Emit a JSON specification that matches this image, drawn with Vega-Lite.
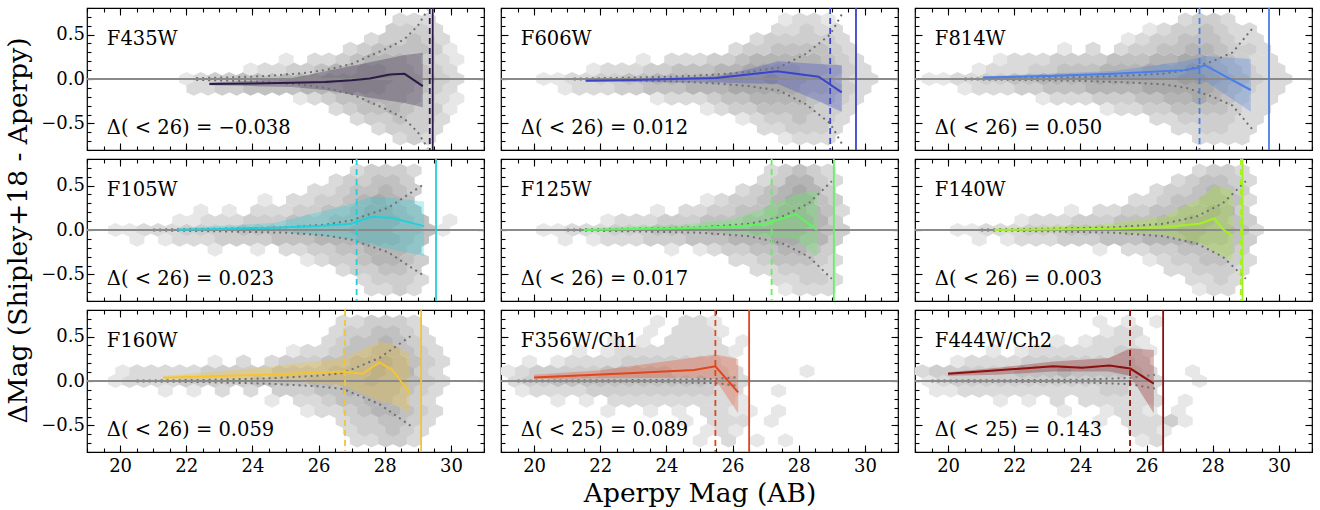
{
"$schema":"https://vega.github.io/schema/vega-lite/v6.json",
"background":"white",
"padding":{"left":5,"top":6,"right":5,"bottom":5},
"config":{"view":{"stroke":"#000","strokeWidth":1.2},
"axis":{"domain":false,"grid":false,"labels":false,"tickColor":"#000","tickWidth":1.1,"labelFont":"DejaVu Serif","labelFontSize":18,"labelColor":"#000","titleFont":"DejaVu Serif","titleFontSize":26.5,"titleFontWeight":"normal","titleColor":"#000"},
"axisX":{"labelPadding":12,"titlePadding":5},"axisY":{"labelPadding":9.5,"titlePadding":8},
"text":{"color":"#000","font":"DejaVu Serif","fontSize":19.5,"align":"left","baseline":"middle"}},
"datasets":{
"lab":[
{"p":"435","name":"F435W","stat":"Δ( < 26) = −0.038"},
{"p":"606","name":"F606W","stat":"Δ( < 26) = 0.012"},
{"p":"814","name":"F814W","stat":"Δ( < 26) = 0.050"},
{"p":"105","name":"F105W","stat":"Δ( < 26) = 0.023"},
{"p":"125","name":"F125W","stat":"Δ( < 26) = 0.017"},
{"p":"140","name":"F140W","stat":"Δ( < 26) = 0.003"},
{"p":"160","name":"F160W","stat":"Δ( < 26) = 0.059"},
{"p":"356","name":"F356W/Ch1","stat":"Δ( < 25) = 0.089"},
{"p":"444","name":"F444W/Ch2","stat":"Δ( < 25) = 0.143"}],
"h435":[
{"x":22.01,"y":0,"v":1},{"x":22.44,"y":0,"v":2},{"x":22.87,"y":0,"v":3},{"x":23.3,"y":0,"v":3},{"x":23.73,"y":0,"v":4},{"x":24.16,"y":0,"v":4},{"x":24.59,"y":0,"v":4},{"x":25.02,"y":0,"v":5},{"x":25.45,"y":0,"v":5},{"x":25.88,"y":0,"v":5},{"x":26.31,"y":0,"v":6},{"x":26.74,"y":0,"v":6},{"x":27.17,"y":0,"v":6},{"x":27.6,"y":0,"v":6},{"x":28.03,"y":0,"v":6},{"x":28.46,"y":0,"v":5},{"x":28.89,"y":0,"v":5},{"x":29.32,"y":0,"v":4},{"x":29.75,"y":0,"v":3},{"x":30.18,"y":0,"v":2},
{"x":22.23,"y":-0.11,"v":2},{"x":22.66,"y":-0.11,"v":2},{"x":23.09,"y":-0.11,"v":3},{"x":23.52,"y":-0.11,"v":3},{"x":23.95,"y":-0.11,"v":4},{"x":24.38,"y":-0.11,"v":4},{"x":24.81,"y":-0.11,"v":4},{"x":25.24,"y":-0.11,"v":4},{"x":25.67,"y":-0.11,"v":5},{"x":26.1,"y":-0.11,"v":5},{"x":26.53,"y":-0.11,"v":5},{"x":26.96,"y":-0.11,"v":6},{"x":27.39,"y":-0.11,"v":6},{"x":27.82,"y":-0.11,"v":6},{"x":28.25,"y":-0.11,"v":5},{"x":28.68,"y":-0.11,"v":5},{"x":29.11,"y":-0.11,"v":4},{"x":29.54,"y":-0.11,"v":3},{"x":29.97,"y":-0.11,"v":2},
{"x":23.95,"y":0.11,"v":1},{"x":24.38,"y":0.11,"v":2},{"x":24.81,"y":0.11,"v":2},{"x":25.24,"y":0.11,"v":3},{"x":25.67,"y":0.11,"v":3},{"x":26.1,"y":0.11,"v":4},{"x":26.53,"y":0.11,"v":5},{"x":26.96,"y":0.11,"v":5},{"x":27.39,"y":0.11,"v":6},{"x":27.82,"y":0.11,"v":6},{"x":28.25,"y":0.11,"v":5},{"x":28.68,"y":0.11,"v":5},{"x":29.11,"y":0.11,"v":4},{"x":29.54,"y":0.11,"v":3},{"x":29.97,"y":0.11,"v":2},
{"x":25.02,"y":0.22,"v":1},{"x":25.88,"y":0.22,"v":2},{"x":26.31,"y":0.22,"v":2},{"x":26.74,"y":0.22,"v":3},{"x":27.17,"y":0.22,"v":4},{"x":27.6,"y":0.22,"v":5},{"x":28.03,"y":0.22,"v":5},{"x":28.46,"y":0.22,"v":5},{"x":28.89,"y":0.22,"v":4},{"x":29.32,"y":0.22,"v":3},{"x":29.75,"y":0.22,"v":2},{"x":30.18,"y":0.22,"v":1},
{"x":25.45,"y":-0.22,"v":1},{"x":25.88,"y":-0.22,"v":2},{"x":26.31,"y":-0.22,"v":3},{"x":26.74,"y":-0.22,"v":4},{"x":27.17,"y":-0.22,"v":4},{"x":27.6,"y":-0.22,"v":5},{"x":28.03,"y":-0.22,"v":5},{"x":28.46,"y":-0.22,"v":5},{"x":28.89,"y":-0.22,"v":4},{"x":29.32,"y":-0.22,"v":3},{"x":29.75,"y":-0.22,"v":2},{"x":30.18,"y":-0.22,"v":1},
{"x":26.96,"y":0.34,"v":2},{"x":27.39,"y":0.34,"v":3},{"x":27.82,"y":0.34,"v":4},{"x":28.25,"y":0.34,"v":4},{"x":28.68,"y":0.34,"v":4},{"x":29.11,"y":0.34,"v":4},{"x":29.54,"y":0.34,"v":3},{"x":29.97,"y":0.34,"v":1},
{"x":26.53,"y":-0.34,"v":2},{"x":26.96,"y":-0.34,"v":3},{"x":27.39,"y":-0.34,"v":4},{"x":27.82,"y":-0.34,"v":4},{"x":28.25,"y":-0.34,"v":5},{"x":28.68,"y":-0.34,"v":4},{"x":29.11,"y":-0.34,"v":3},{"x":29.54,"y":-0.34,"v":3},{"x":29.97,"y":-0.34,"v":1},
{"x":27.6,"y":0.45,"v":2},{"x":28.03,"y":0.45,"v":3},{"x":28.46,"y":0.45,"v":3},{"x":28.89,"y":0.45,"v":4},{"x":29.32,"y":0.45,"v":3},{"x":29.75,"y":0.45,"v":2},
{"x":27.17,"y":-0.45,"v":2},{"x":27.6,"y":-0.45,"v":3},{"x":28.03,"y":-0.45,"v":3},{"x":28.46,"y":-0.45,"v":4},{"x":28.89,"y":-0.45,"v":3},{"x":29.32,"y":-0.45,"v":3},{"x":29.75,"y":-0.45,"v":2},
{"x":28.25,"y":0.56,"v":3},{"x":28.68,"y":0.56,"v":3},{"x":29.11,"y":0.56,"v":3},{"x":29.54,"y":0.56,"v":2},
{"x":27.82,"y":-0.56,"v":2},{"x":28.25,"y":-0.56,"v":3},{"x":28.68,"y":-0.56,"v":3},{"x":29.11,"y":-0.56,"v":3},{"x":29.54,"y":-0.56,"v":2},
{"x":28.46,"y":0.67,"v":2},{"x":28.89,"y":0.67,"v":2},{"x":29.32,"y":0.67,"v":2},
{"x":28.46,"y":-0.67,"v":2},{"x":28.89,"y":-0.67,"v":3},{"x":29.32,"y":-0.67,"v":2}],
"h606":[
{"x":20.29,"y":0,"v":1},{"x":20.72,"y":0,"v":1},{"x":21.15,"y":0,"v":2},{"x":21.58,"y":0,"v":2},{"x":22.01,"y":0,"v":3},{"x":22.44,"y":0,"v":3},{"x":22.87,"y":0,"v":4},{"x":23.3,"y":0,"v":4},{"x":23.73,"y":0,"v":5},{"x":24.16,"y":0,"v":5},{"x":24.59,"y":0,"v":5},{"x":25.02,"y":0,"v":5},{"x":25.45,"y":0,"v":6},{"x":25.88,"y":0,"v":6},{"x":26.31,"y":0,"v":6},{"x":26.74,"y":0,"v":6},{"x":27.17,"y":0,"v":7},{"x":27.6,"y":0,"v":6},{"x":28.03,"y":0,"v":6},{"x":28.46,"y":0,"v":5},{"x":28.89,"y":0,"v":4},{"x":29.32,"y":0,"v":3},{"x":29.75,"y":0,"v":2},{"x":30.18,"y":0,"v":2},
{"x":20.94,"y":-0.11,"v":1},{"x":21.37,"y":-0.11,"v":2},{"x":21.8,"y":-0.11,"v":2},{"x":22.23,"y":-0.11,"v":2},{"x":22.66,"y":-0.11,"v":3},{"x":23.09,"y":-0.11,"v":3},{"x":23.52,"y":-0.11,"v":4},{"x":23.95,"y":-0.11,"v":4},{"x":24.38,"y":-0.11,"v":4},{"x":24.81,"y":-0.11,"v":5},{"x":25.24,"y":-0.11,"v":5},{"x":25.67,"y":-0.11,"v":5},{"x":26.1,"y":-0.11,"v":6},{"x":26.53,"y":-0.11,"v":6},{"x":26.96,"y":-0.11,"v":6},{"x":27.39,"y":-0.11,"v":6},{"x":27.82,"y":-0.11,"v":6},{"x":28.25,"y":-0.11,"v":5},{"x":28.68,"y":-0.11,"v":5},{"x":29.11,"y":-0.11,"v":4},{"x":29.54,"y":-0.11,"v":3},{"x":29.97,"y":-0.11,"v":2},
{"x":21.8,"y":0.11,"v":1},{"x":22.23,"y":0.11,"v":2},{"x":22.66,"y":0.11,"v":2},{"x":23.09,"y":0.11,"v":2},{"x":23.52,"y":0.11,"v":3},{"x":23.95,"y":0.11,"v":3},{"x":24.38,"y":0.11,"v":4},{"x":24.81,"y":0.11,"v":4},{"x":25.24,"y":0.11,"v":4},{"x":25.67,"y":0.11,"v":5},{"x":26.1,"y":0.11,"v":5},{"x":26.53,"y":0.11,"v":6},{"x":26.96,"y":0.11,"v":6},{"x":27.39,"y":0.11,"v":6},{"x":27.82,"y":0.11,"v":6},{"x":28.25,"y":0.11,"v":5},{"x":28.68,"y":0.11,"v":5},{"x":29.11,"y":0.11,"v":4},{"x":29.54,"y":0.11,"v":3},{"x":29.97,"y":0.11,"v":2},
{"x":23.3,"y":0.22,"v":1},{"x":24.16,"y":0.22,"v":2},{"x":24.59,"y":0.22,"v":2},{"x":25.02,"y":0.22,"v":2},{"x":25.45,"y":0.22,"v":3},{"x":25.88,"y":0.22,"v":3},{"x":26.31,"y":0.22,"v":4},{"x":26.74,"y":0.22,"v":5},{"x":27.17,"y":0.22,"v":5},{"x":27.6,"y":0.22,"v":5},{"x":28.03,"y":0.22,"v":5},{"x":28.46,"y":0.22,"v":5},{"x":28.89,"y":0.22,"v":4},{"x":29.32,"y":0.22,"v":3},{"x":29.75,"y":0.22,"v":2},
{"x":23.73,"y":-0.22,"v":1},{"x":24.16,"y":-0.22,"v":2},{"x":24.59,"y":-0.22,"v":2},{"x":25.02,"y":-0.22,"v":2},{"x":25.45,"y":-0.22,"v":3},{"x":25.88,"y":-0.22,"v":4},{"x":26.31,"y":-0.22,"v":4},{"x":26.74,"y":-0.22,"v":5},{"x":27.17,"y":-0.22,"v":5},{"x":27.6,"y":-0.22,"v":5},{"x":28.03,"y":-0.22,"v":5},{"x":28.46,"y":-0.22,"v":4},{"x":28.89,"y":-0.22,"v":4},{"x":29.32,"y":-0.22,"v":3},{"x":29.75,"y":-0.22,"v":2},
{"x":26.1,"y":0.34,"v":2},{"x":26.53,"y":0.34,"v":3},{"x":26.96,"y":0.34,"v":3},{"x":27.39,"y":0.34,"v":4},{"x":27.82,"y":0.34,"v":4},{"x":28.25,"y":0.34,"v":4},{"x":28.68,"y":0.34,"v":4},{"x":29.11,"y":0.34,"v":3},{"x":29.54,"y":0.34,"v":2},
{"x":25.24,"y":-0.34,"v":1},{"x":25.67,"y":-0.34,"v":2},{"x":26.1,"y":-0.34,"v":3},{"x":26.53,"y":-0.34,"v":3},{"x":26.96,"y":-0.34,"v":4},{"x":27.39,"y":-0.34,"v":4},{"x":27.82,"y":-0.34,"v":4},{"x":28.25,"y":-0.34,"v":4},{"x":28.68,"y":-0.34,"v":3},{"x":29.11,"y":-0.34,"v":3},{"x":29.54,"y":-0.34,"v":2},
{"x":26.74,"y":0.45,"v":2},{"x":27.17,"y":0.45,"v":3},{"x":27.6,"y":0.45,"v":3},{"x":28.03,"y":0.45,"v":3},{"x":28.46,"y":0.45,"v":3},{"x":28.89,"y":0.45,"v":3},{"x":29.32,"y":0.45,"v":2},
{"x":26.31,"y":-0.45,"v":1},{"x":26.74,"y":-0.45,"v":2},{"x":27.17,"y":-0.45,"v":3},{"x":27.6,"y":-0.45,"v":3},{"x":28.03,"y":-0.45,"v":4},{"x":28.46,"y":-0.45,"v":3},{"x":28.89,"y":-0.45,"v":3},{"x":29.32,"y":-0.45,"v":2},
{"x":27.39,"y":0.56,"v":2},{"x":27.82,"y":0.56,"v":2},{"x":28.25,"y":0.56,"v":3},{"x":28.68,"y":0.56,"v":2},{"x":29.11,"y":0.56,"v":2},
{"x":26.96,"y":-0.56,"v":2},{"x":27.39,"y":-0.56,"v":2},{"x":27.82,"y":-0.56,"v":3},{"x":28.25,"y":-0.56,"v":3},{"x":28.68,"y":-0.56,"v":3},{"x":29.11,"y":-0.56,"v":2},
{"x":27.6,"y":0.67,"v":1},{"x":28.03,"y":0.67,"v":2},{"x":28.46,"y":0.67,"v":2},{"x":28.89,"y":0.67,"v":1},
{"x":27.6,"y":-0.67,"v":1},{"x":28.03,"y":-0.67,"v":2},{"x":28.46,"y":-0.67,"v":2},{"x":28.89,"y":-0.67,"v":2}],
"h814":[
{"x":19.43,"y":0,"v":1},{"x":19.86,"y":0,"v":1},{"x":20.29,"y":0,"v":2},{"x":20.72,"y":0,"v":2},{"x":21.15,"y":0,"v":3},{"x":21.58,"y":0,"v":3},{"x":22.01,"y":0,"v":4},{"x":22.44,"y":0,"v":4},{"x":22.87,"y":0,"v":5},{"x":23.3,"y":0,"v":5},{"x":23.73,"y":0,"v":5},{"x":24.16,"y":0,"v":5},{"x":24.59,"y":0,"v":6},{"x":25.02,"y":0,"v":6},{"x":25.45,"y":0,"v":6},{"x":25.88,"y":0,"v":6},{"x":26.31,"y":0,"v":6},{"x":26.74,"y":0,"v":6},{"x":27.17,"y":0,"v":7},{"x":27.6,"y":0,"v":7},{"x":28.03,"y":0,"v":6},{"x":28.46,"y":0,"v":5},{"x":28.89,"y":0,"v":4},{"x":29.32,"y":0,"v":3},{"x":29.75,"y":0,"v":2},{"x":30.18,"y":0,"v":2},
{"x":20.51,"y":-0.11,"v":1},{"x":20.94,"y":-0.11,"v":2},{"x":21.37,"y":-0.11,"v":2},{"x":21.8,"y":-0.11,"v":2},{"x":22.23,"y":-0.11,"v":3},{"x":22.66,"y":-0.11,"v":3},{"x":23.09,"y":-0.11,"v":4},{"x":23.52,"y":-0.11,"v":4},{"x":23.95,"y":-0.11,"v":4},{"x":24.38,"y":-0.11,"v":5},{"x":24.81,"y":-0.11,"v":5},{"x":25.24,"y":-0.11,"v":5},{"x":25.67,"y":-0.11,"v":5},{"x":26.1,"y":-0.11,"v":6},{"x":26.53,"y":-0.11,"v":6},{"x":26.96,"y":-0.11,"v":6},{"x":27.39,"y":-0.11,"v":6},{"x":27.82,"y":-0.11,"v":6},{"x":28.25,"y":-0.11,"v":5},{"x":28.68,"y":-0.11,"v":4},{"x":29.11,"y":-0.11,"v":3},{"x":29.54,"y":-0.11,"v":2},{"x":29.97,"y":-0.11,"v":2},
{"x":20.94,"y":0.11,"v":1},{"x":21.37,"y":0.11,"v":2},{"x":21.8,"y":0.11,"v":2},{"x":22.23,"y":0.11,"v":2},{"x":22.66,"y":0.11,"v":3},{"x":23.09,"y":0.11,"v":3},{"x":23.52,"y":0.11,"v":4},{"x":23.95,"y":0.11,"v":4},{"x":24.38,"y":0.11,"v":4},{"x":24.81,"y":0.11,"v":5},{"x":25.24,"y":0.11,"v":5},{"x":25.67,"y":0.11,"v":5},{"x":26.1,"y":0.11,"v":6},{"x":26.53,"y":0.11,"v":6},{"x":26.96,"y":0.11,"v":6},{"x":27.39,"y":0.11,"v":7},{"x":27.82,"y":0.11,"v":6},{"x":28.25,"y":0.11,"v":5},{"x":28.68,"y":0.11,"v":4},{"x":29.11,"y":0.11,"v":3},{"x":29.54,"y":0.11,"v":2},{"x":29.97,"y":0.11,"v":2},
{"x":21.58,"y":0.22,"v":1},{"x":22.01,"y":0.22,"v":2},{"x":22.44,"y":0.22,"v":2},{"x":22.87,"y":0.22,"v":2},{"x":23.3,"y":0.22,"v":3},{"x":23.73,"y":0.22,"v":3},{"x":24.16,"y":0.22,"v":3},{"x":24.59,"y":0.22,"v":3},{"x":25.02,"y":0.22,"v":4},{"x":25.45,"y":0.22,"v":4},{"x":25.88,"y":0.22,"v":4},{"x":26.31,"y":0.22,"v":5},{"x":26.74,"y":0.22,"v":5},{"x":27.17,"y":0.22,"v":6},{"x":27.6,"y":0.22,"v":6},{"x":28.03,"y":0.22,"v":5},{"x":28.46,"y":0.22,"v":4},{"x":28.89,"y":0.22,"v":3},{"x":29.32,"y":0.22,"v":2},{"x":29.75,"y":0.22,"v":2},
{"x":22.87,"y":-0.22,"v":1},{"x":23.3,"y":-0.22,"v":2},{"x":23.73,"y":-0.22,"v":2},{"x":24.16,"y":-0.22,"v":2},{"x":24.59,"y":-0.22,"v":3},{"x":25.02,"y":-0.22,"v":3},{"x":25.45,"y":-0.22,"v":3},{"x":25.88,"y":-0.22,"v":4},{"x":26.31,"y":-0.22,"v":4},{"x":26.74,"y":-0.22,"v":5},{"x":27.17,"y":-0.22,"v":5},{"x":27.6,"y":-0.22,"v":6},{"x":28.03,"y":-0.22,"v":5},{"x":28.46,"y":-0.22,"v":4},{"x":28.89,"y":-0.22,"v":3},{"x":29.32,"y":-0.22,"v":2},{"x":29.75,"y":-0.22,"v":2},
{"x":23.52,"y":0.34,"v":1},{"x":24.38,"y":0.34,"v":2},{"x":25.24,"y":0.34,"v":2},{"x":25.67,"y":0.34,"v":3},{"x":26.1,"y":0.34,"v":3},{"x":26.53,"y":0.34,"v":4},{"x":26.96,"y":0.34,"v":4},{"x":27.39,"y":0.34,"v":5},{"x":27.82,"y":0.34,"v":5},{"x":28.25,"y":0.34,"v":4},{"x":28.68,"y":0.34,"v":3},{"x":29.11,"y":0.34,"v":3},{"x":29.54,"y":0.34,"v":2},
{"x":24.81,"y":-0.34,"v":1},{"x":25.24,"y":-0.34,"v":2},{"x":25.67,"y":-0.34,"v":2},{"x":26.1,"y":-0.34,"v":3},{"x":26.53,"y":-0.34,"v":3},{"x":26.96,"y":-0.34,"v":4},{"x":27.39,"y":-0.34,"v":4},{"x":27.82,"y":-0.34,"v":4},{"x":28.25,"y":-0.34,"v":4},{"x":28.68,"y":-0.34,"v":3},{"x":29.11,"y":-0.34,"v":2},{"x":29.54,"y":-0.34,"v":2},
{"x":25.45,"y":0.45,"v":1},{"x":25.88,"y":0.45,"v":2},{"x":26.31,"y":0.45,"v":3},{"x":26.74,"y":0.45,"v":3},{"x":27.17,"y":0.45,"v":4},{"x":27.6,"y":0.45,"v":4},{"x":28.03,"y":0.45,"v":4},{"x":28.46,"y":0.45,"v":3},{"x":28.89,"y":0.45,"v":2},{"x":29.32,"y":0.45,"v":2},
{"x":26.31,"y":-0.45,"v":2},{"x":26.74,"y":-0.45,"v":2},{"x":27.17,"y":-0.45,"v":3},{"x":27.6,"y":-0.45,"v":3},{"x":28.03,"y":-0.45,"v":3},{"x":28.46,"y":-0.45,"v":3},{"x":28.89,"y":-0.45,"v":2},{"x":29.32,"y":-0.45,"v":2},
{"x":26.1,"y":0.56,"v":1},{"x":26.53,"y":0.56,"v":2},{"x":26.96,"y":0.56,"v":3},{"x":27.39,"y":0.56,"v":3},{"x":27.82,"y":0.56,"v":4},{"x":28.25,"y":0.56,"v":3},{"x":28.68,"y":0.56,"v":2},{"x":29.11,"y":0.56,"v":2},
{"x":26.96,"y":-0.56,"v":2},{"x":27.39,"y":-0.56,"v":2},{"x":27.82,"y":-0.56,"v":3},{"x":28.25,"y":-0.56,"v":3},{"x":28.68,"y":-0.56,"v":2},{"x":29.11,"y":-0.56,"v":2},
{"x":27.17,"y":0.67,"v":2},{"x":27.6,"y":0.67,"v":3},{"x":28.03,"y":0.67,"v":3},{"x":28.46,"y":0.67,"v":2},
{"x":27.6,"y":-0.67,"v":2},{"x":28.03,"y":-0.67,"v":2},{"x":28.46,"y":-0.67,"v":2},{"x":28.89,"y":-0.67,"v":2}],
"h105":[
{"x":19.86,"y":0,"v":1},{"x":20.29,"y":0,"v":1},{"x":20.72,"y":0,"v":2},{"x":21.15,"y":0,"v":2},{"x":21.58,"y":0,"v":2},{"x":22.01,"y":0,"v":3},{"x":22.44,"y":0,"v":3},{"x":22.87,"y":0,"v":3},{"x":23.3,"y":0,"v":3},{"x":23.73,"y":0,"v":4},{"x":24.16,"y":0,"v":4},{"x":24.59,"y":0,"v":4},{"x":25.02,"y":0,"v":4},{"x":25.45,"y":0,"v":5},{"x":25.88,"y":0,"v":5},{"x":26.31,"y":0,"v":5},{"x":26.74,"y":0,"v":5},{"x":27.17,"y":0,"v":6},{"x":27.6,"y":0,"v":6},{"x":28.03,"y":0,"v":6},{"x":28.46,"y":0,"v":5},{"x":28.89,"y":0,"v":5},{"x":29.32,"y":0,"v":4},{"x":29.75,"y":0,"v":1},
{"x":20.51,"y":-0.11,"v":1},{"x":21.37,"y":-0.11,"v":1},{"x":21.8,"y":-0.11,"v":2},{"x":22.23,"y":-0.11,"v":2},{"x":22.66,"y":-0.11,"v":2},{"x":23.09,"y":-0.11,"v":3},{"x":23.52,"y":-0.11,"v":3},{"x":23.95,"y":-0.11,"v":3},{"x":24.38,"y":-0.11,"v":3},{"x":24.81,"y":-0.11,"v":4},{"x":25.24,"y":-0.11,"v":4},{"x":25.67,"y":-0.11,"v":4},{"x":26.1,"y":-0.11,"v":5},{"x":26.53,"y":-0.11,"v":5},{"x":26.96,"y":-0.11,"v":5},{"x":27.39,"y":-0.11,"v":6},{"x":27.82,"y":-0.11,"v":6},{"x":28.25,"y":-0.11,"v":6},{"x":28.68,"y":-0.11,"v":5},{"x":29.11,"y":-0.11,"v":4},
{"x":21.8,"y":0.11,"v":1},{"x":22.23,"y":0.11,"v":1},{"x":22.66,"y":0.11,"v":2},{"x":23.09,"y":0.11,"v":2},{"x":23.52,"y":0.11,"v":2},{"x":23.95,"y":0.11,"v":3},{"x":24.38,"y":0.11,"v":3},{"x":24.81,"y":0.11,"v":3},{"x":25.24,"y":0.11,"v":4},{"x":25.67,"y":0.11,"v":4},{"x":26.1,"y":0.11,"v":4},{"x":26.53,"y":0.11,"v":5},{"x":26.96,"y":0.11,"v":5},{"x":27.39,"y":0.11,"v":6},{"x":27.82,"y":0.11,"v":6},{"x":28.25,"y":0.11,"v":6},{"x":28.68,"y":0.11,"v":5},{"x":29.11,"y":0.11,"v":4},{"x":29.97,"y":0.11,"v":1},
{"x":22.44,"y":0.22,"v":1},{"x":23.3,"y":0.22,"v":1},{"x":24.16,"y":0.22,"v":2},{"x":24.59,"y":0.22,"v":2},{"x":25.02,"y":0.22,"v":2},{"x":25.45,"y":0.22,"v":3},{"x":25.88,"y":0.22,"v":3},{"x":26.31,"y":0.22,"v":4},{"x":26.74,"y":0.22,"v":4},{"x":27.17,"y":0.22,"v":5},{"x":27.6,"y":0.22,"v":6},{"x":28.03,"y":0.22,"v":6},{"x":28.46,"y":0.22,"v":5},{"x":28.89,"y":0.22,"v":4},
{"x":22.87,"y":-0.22,"v":1},{"x":24.16,"y":-0.22,"v":1},{"x":25.02,"y":-0.22,"v":2},{"x":25.45,"y":-0.22,"v":2},{"x":25.88,"y":-0.22,"v":3},{"x":26.31,"y":-0.22,"v":3},{"x":26.74,"y":-0.22,"v":4},{"x":27.17,"y":-0.22,"v":4},{"x":27.6,"y":-0.22,"v":5},{"x":28.03,"y":-0.22,"v":5},{"x":28.46,"y":-0.22,"v":5},{"x":28.89,"y":-0.22,"v":4},
{"x":24.38,"y":0.34,"v":1},{"x":25.24,"y":0.34,"v":2},{"x":25.67,"y":0.34,"v":2},{"x":26.1,"y":0.34,"v":3},{"x":26.53,"y":0.34,"v":3},{"x":26.96,"y":0.34,"v":4},{"x":27.39,"y":0.34,"v":5},{"x":27.82,"y":0.34,"v":6},{"x":28.25,"y":0.34,"v":5},{"x":28.68,"y":0.34,"v":4},
{"x":25.67,"y":-0.34,"v":1},{"x":26.1,"y":-0.34,"v":2},{"x":26.53,"y":-0.34,"v":3},{"x":26.96,"y":-0.34,"v":3},{"x":27.39,"y":-0.34,"v":4},{"x":27.82,"y":-0.34,"v":5},{"x":28.25,"y":-0.34,"v":5},{"x":28.68,"y":-0.34,"v":4},{"x":29.11,"y":-0.34,"v":3},
{"x":25.88,"y":0.45,"v":2},{"x":26.31,"y":0.45,"v":2},{"x":26.74,"y":0.45,"v":3},{"x":27.17,"y":0.45,"v":4},{"x":27.6,"y":0.45,"v":4},{"x":28.03,"y":0.45,"v":5},{"x":28.46,"y":0.45,"v":4},{"x":28.89,"y":0.45,"v":3},
{"x":26.74,"y":-0.45,"v":2},{"x":27.17,"y":-0.45,"v":3},{"x":27.6,"y":-0.45,"v":3},{"x":28.03,"y":-0.45,"v":4},{"x":28.46,"y":-0.45,"v":4},{"x":28.89,"y":-0.45,"v":3},
{"x":26.53,"y":0.56,"v":2},{"x":26.96,"y":0.56,"v":3},{"x":27.39,"y":0.56,"v":3},{"x":27.82,"y":0.56,"v":4},{"x":28.25,"y":0.56,"v":4},{"x":28.68,"y":0.56,"v":3},
{"x":27.39,"y":-0.56,"v":2},{"x":27.82,"y":-0.56,"v":3},{"x":28.25,"y":-0.56,"v":3},{"x":28.68,"y":-0.56,"v":3},{"x":29.11,"y":-0.56,"v":2},
{"x":27.17,"y":0.67,"v":2},{"x":27.6,"y":0.67,"v":3},{"x":28.03,"y":0.67,"v":3},{"x":28.46,"y":0.67,"v":3},{"x":28.89,"y":0.67,"v":2},
{"x":27.6,"y":-0.67,"v":2},{"x":28.03,"y":-0.67,"v":2},{"x":28.46,"y":-0.67,"v":3},{"x":28.89,"y":-0.67,"v":2}],
"h125":[
{"x":20.29,"y":0,"v":1},{"x":20.72,"y":0,"v":1},{"x":21.15,"y":0,"v":2},{"x":21.58,"y":0,"v":2},{"x":22.01,"y":0,"v":2},{"x":22.44,"y":0,"v":3},{"x":22.87,"y":0,"v":3},{"x":23.3,"y":0,"v":3},{"x":23.73,"y":0,"v":4},{"x":24.16,"y":0,"v":4},{"x":24.59,"y":0,"v":4},{"x":25.02,"y":0,"v":4},{"x":25.45,"y":0,"v":5},{"x":25.88,"y":0,"v":5},{"x":26.31,"y":0,"v":5},{"x":26.74,"y":0,"v":6},{"x":27.17,"y":0,"v":6},{"x":27.6,"y":0,"v":6},{"x":28.03,"y":0,"v":6},{"x":28.46,"y":0,"v":5},{"x":28.89,"y":0,"v":4},{"x":29.32,"y":0,"v":3},
{"x":20.94,"y":-0.11,"v":1},{"x":21.8,"y":-0.11,"v":1},{"x":22.23,"y":-0.11,"v":2},{"x":22.66,"y":-0.11,"v":2},{"x":23.09,"y":-0.11,"v":2},{"x":23.52,"y":-0.11,"v":3},{"x":23.95,"y":-0.11,"v":3},{"x":24.38,"y":-0.11,"v":3},{"x":24.81,"y":-0.11,"v":4},{"x":25.24,"y":-0.11,"v":4},{"x":25.67,"y":-0.11,"v":4},{"x":26.1,"y":-0.11,"v":5},{"x":26.53,"y":-0.11,"v":5},{"x":26.96,"y":-0.11,"v":5},{"x":27.39,"y":-0.11,"v":6},{"x":27.82,"y":-0.11,"v":6},{"x":28.25,"y":-0.11,"v":5},{"x":28.68,"y":-0.11,"v":5},{"x":29.11,"y":-0.11,"v":3},
{"x":22.23,"y":0.11,"v":1},{"x":22.66,"y":0.11,"v":2},{"x":23.09,"y":0.11,"v":2},{"x":23.52,"y":0.11,"v":2},{"x":23.95,"y":0.11,"v":3},{"x":24.38,"y":0.11,"v":3},{"x":24.81,"y":0.11,"v":3},{"x":25.24,"y":0.11,"v":4},{"x":25.67,"y":0.11,"v":4},{"x":26.1,"y":0.11,"v":4},{"x":26.53,"y":0.11,"v":5},{"x":26.96,"y":0.11,"v":5},{"x":27.39,"y":0.11,"v":6},{"x":27.82,"y":0.11,"v":6},{"x":28.25,"y":0.11,"v":6},{"x":28.68,"y":0.11,"v":5},{"x":29.11,"y":0.11,"v":3},
{"x":23.73,"y":0.22,"v":1},{"x":24.59,"y":0.22,"v":2},{"x":25.02,"y":0.22,"v":2},{"x":25.45,"y":0.22,"v":3},{"x":25.88,"y":0.22,"v":3},{"x":26.31,"y":0.22,"v":4},{"x":26.74,"y":0.22,"v":4},{"x":27.17,"y":0.22,"v":5},{"x":27.6,"y":0.22,"v":6},{"x":28.03,"y":0.22,"v":6},{"x":28.46,"y":0.22,"v":5},{"x":28.89,"y":0.22,"v":4},{"x":29.32,"y":0.22,"v":2},
{"x":24.16,"y":-0.22,"v":1},{"x":25.02,"y":-0.22,"v":1},{"x":25.45,"y":-0.22,"v":2},{"x":25.88,"y":-0.22,"v":3},{"x":26.31,"y":-0.22,"v":3},{"x":26.74,"y":-0.22,"v":4},{"x":27.17,"y":-0.22,"v":4},{"x":27.6,"y":-0.22,"v":5},{"x":28.03,"y":-0.22,"v":5},{"x":28.46,"y":-0.22,"v":4},{"x":28.89,"y":-0.22,"v":3},
{"x":25.24,"y":0.34,"v":1},{"x":25.67,"y":0.34,"v":2},{"x":26.1,"y":0.34,"v":3},{"x":26.53,"y":0.34,"v":3},{"x":26.96,"y":0.34,"v":4},{"x":27.39,"y":0.34,"v":5},{"x":27.82,"y":0.34,"v":6},{"x":28.25,"y":0.34,"v":6},{"x":28.68,"y":0.34,"v":4},{"x":29.11,"y":0.34,"v":3},
{"x":26.1,"y":-0.34,"v":2},{"x":26.53,"y":-0.34,"v":2},{"x":26.96,"y":-0.34,"v":3},{"x":27.39,"y":-0.34,"v":4},{"x":27.82,"y":-0.34,"v":4},{"x":28.25,"y":-0.34,"v":4},{"x":28.68,"y":-0.34,"v":3},{"x":29.11,"y":-0.34,"v":2},
{"x":26.31,"y":0.45,"v":2},{"x":26.74,"y":0.45,"v":3},{"x":27.17,"y":0.45,"v":4},{"x":27.6,"y":0.45,"v":5},{"x":28.03,"y":0.45,"v":6},{"x":28.46,"y":0.45,"v":5},{"x":28.89,"y":0.45,"v":3},
{"x":26.74,"y":-0.45,"v":2},{"x":27.17,"y":-0.45,"v":2},{"x":27.6,"y":-0.45,"v":3},{"x":28.03,"y":-0.45,"v":3},{"x":28.46,"y":-0.45,"v":3},{"x":28.89,"y":-0.45,"v":2},
{"x":26.96,"y":0.56,"v":2},{"x":27.39,"y":0.56,"v":3},{"x":27.82,"y":0.56,"v":5},{"x":28.25,"y":0.56,"v":5},{"x":28.68,"y":0.56,"v":3},{"x":29.11,"y":0.56,"v":2},
{"x":27.39,"y":-0.56,"v":2},{"x":27.82,"y":-0.56,"v":2},{"x":28.25,"y":-0.56,"v":3},{"x":28.68,"y":-0.56,"v":3},{"x":29.11,"y":-0.56,"v":2},
{"x":27.17,"y":0.67,"v":2},{"x":27.6,"y":0.67,"v":3},{"x":28.03,"y":0.67,"v":4},{"x":28.46,"y":0.67,"v":3},{"x":28.89,"y":0.67,"v":2},
{"x":27.6,"y":-0.67,"v":1},{"x":28.03,"y":-0.67,"v":2},{"x":28.46,"y":-0.67,"v":2},{"x":28.89,"y":-0.67,"v":2}],
"h140":[
{"x":20.29,"y":0,"v":1},{"x":20.72,"y":0,"v":1},{"x":21.15,"y":0,"v":2},{"x":21.58,"y":0,"v":2},{"x":22.01,"y":0,"v":2},{"x":22.44,"y":0,"v":3},{"x":22.87,"y":0,"v":3},{"x":23.3,"y":0,"v":3},{"x":23.73,"y":0,"v":4},{"x":24.16,"y":0,"v":4},{"x":24.59,"y":0,"v":4},{"x":25.02,"y":0,"v":4},{"x":25.45,"y":0,"v":5},{"x":25.88,"y":0,"v":5},{"x":26.31,"y":0,"v":5},{"x":26.74,"y":0,"v":5},{"x":27.17,"y":0,"v":6},{"x":27.6,"y":0,"v":6},{"x":28.03,"y":0,"v":5},{"x":28.46,"y":0,"v":5},{"x":28.89,"y":0,"v":4},{"x":29.32,"y":0,"v":2},
{"x":20.94,"y":-0.11,"v":1},{"x":21.8,"y":-0.11,"v":1},{"x":22.23,"y":-0.11,"v":2},{"x":22.66,"y":-0.11,"v":2},{"x":23.09,"y":-0.11,"v":2},{"x":23.52,"y":-0.11,"v":3},{"x":23.95,"y":-0.11,"v":3},{"x":24.38,"y":-0.11,"v":3},{"x":24.81,"y":-0.11,"v":4},{"x":25.24,"y":-0.11,"v":4},{"x":25.67,"y":-0.11,"v":4},{"x":26.1,"y":-0.11,"v":5},{"x":26.53,"y":-0.11,"v":5},{"x":26.96,"y":-0.11,"v":5},{"x":27.39,"y":-0.11,"v":6},{"x":27.82,"y":-0.11,"v":5},{"x":28.25,"y":-0.11,"v":5},{"x":28.68,"y":-0.11,"v":4},{"x":29.11,"y":-0.11,"v":3},
{"x":22.23,"y":0.11,"v":1},{"x":22.66,"y":0.11,"v":2},{"x":23.09,"y":0.11,"v":2},{"x":23.52,"y":0.11,"v":2},{"x":23.95,"y":0.11,"v":3},{"x":24.38,"y":0.11,"v":3},{"x":24.81,"y":0.11,"v":3},{"x":25.24,"y":0.11,"v":4},{"x":25.67,"y":0.11,"v":4},{"x":26.1,"y":0.11,"v":4},{"x":26.53,"y":0.11,"v":5},{"x":26.96,"y":0.11,"v":5},{"x":27.39,"y":0.11,"v":6},{"x":27.82,"y":0.11,"v":6},{"x":28.25,"y":0.11,"v":5},{"x":28.68,"y":0.11,"v":4},{"x":29.11,"y":0.11,"v":3},
{"x":23.73,"y":0.22,"v":1},{"x":24.59,"y":0.22,"v":2},{"x":25.02,"y":0.22,"v":2},{"x":25.45,"y":0.22,"v":3},{"x":25.88,"y":0.22,"v":3},{"x":26.31,"y":0.22,"v":4},{"x":26.74,"y":0.22,"v":4},{"x":27.17,"y":0.22,"v":5},{"x":27.6,"y":0.22,"v":5},{"x":28.03,"y":0.22,"v":6},{"x":28.46,"y":0.22,"v":5},{"x":28.89,"y":0.22,"v":3},
{"x":24.59,"y":-0.22,"v":1},{"x":25.45,"y":-0.22,"v":2},{"x":25.88,"y":-0.22,"v":2},{"x":26.31,"y":-0.22,"v":3},{"x":26.74,"y":-0.22,"v":3},{"x":27.17,"y":-0.22,"v":4},{"x":27.6,"y":-0.22,"v":4},{"x":28.03,"y":-0.22,"v":4},{"x":28.46,"y":-0.22,"v":4},{"x":28.89,"y":-0.22,"v":3},
{"x":25.67,"y":0.34,"v":2},{"x":26.1,"y":0.34,"v":2},{"x":26.53,"y":0.34,"v":3},{"x":26.96,"y":0.34,"v":4},{"x":27.39,"y":0.34,"v":4},{"x":27.82,"y":0.34,"v":5},{"x":28.25,"y":0.34,"v":5},{"x":28.68,"y":0.34,"v":4},{"x":29.11,"y":0.34,"v":2},
{"x":26.1,"y":-0.34,"v":1},{"x":26.53,"y":-0.34,"v":2},{"x":26.96,"y":-0.34,"v":3},{"x":27.39,"y":-0.34,"v":3},{"x":27.82,"y":-0.34,"v":4},{"x":28.25,"y":-0.34,"v":4},{"x":28.68,"y":-0.34,"v":3},{"x":29.11,"y":-0.34,"v":2},
{"x":26.31,"y":0.45,"v":2},{"x":26.74,"y":0.45,"v":3},{"x":27.17,"y":0.45,"v":3},{"x":27.6,"y":0.45,"v":4},{"x":28.03,"y":0.45,"v":5},{"x":28.46,"y":0.45,"v":4},{"x":28.89,"y":0.45,"v":3},
{"x":26.74,"y":-0.45,"v":2},{"x":27.17,"y":-0.45,"v":2},{"x":27.6,"y":-0.45,"v":3},{"x":28.03,"y":-0.45,"v":3},{"x":28.46,"y":-0.45,"v":3},{"x":28.89,"y":-0.45,"v":2},
{"x":26.96,"y":0.56,"v":2},{"x":27.39,"y":0.56,"v":3},{"x":27.82,"y":0.56,"v":4},{"x":28.25,"y":0.56,"v":4},{"x":28.68,"y":0.56,"v":3},{"x":29.11,"y":0.56,"v":2},
{"x":27.39,"y":-0.56,"v":2},{"x":27.82,"y":-0.56,"v":2},{"x":28.25,"y":-0.56,"v":3},{"x":28.68,"y":-0.56,"v":2},
{"x":27.6,"y":0.67,"v":2},{"x":28.03,"y":0.67,"v":3},{"x":28.46,"y":0.67,"v":3},{"x":28.89,"y":0.67,"v":2},
{"x":27.6,"y":-0.67,"v":1},{"x":28.03,"y":-0.67,"v":2},{"x":28.46,"y":-0.67,"v":2}],
"h160":[
{"x":19.86,"y":0,"v":1},{"x":20.29,"y":0,"v":2},{"x":20.72,"y":0,"v":2},{"x":21.15,"y":0,"v":2},{"x":21.58,"y":0,"v":2},{"x":22.01,"y":0,"v":3},{"x":22.44,"y":0,"v":3},{"x":22.87,"y":0,"v":3},{"x":23.3,"y":0,"v":3},{"x":23.73,"y":0,"v":3},{"x":24.16,"y":0,"v":4},{"x":24.59,"y":0,"v":4},{"x":25.02,"y":0,"v":4},{"x":25.45,"y":0,"v":4},{"x":25.88,"y":0,"v":5},{"x":26.31,"y":0,"v":5},{"x":26.74,"y":0,"v":5},{"x":27.17,"y":0,"v":5},{"x":27.6,"y":0,"v":6},{"x":28.03,"y":0,"v":5},{"x":28.46,"y":0,"v":5},{"x":28.89,"y":0,"v":4},{"x":29.32,"y":0,"v":3},{"x":29.75,"y":0,"v":2},
{"x":20.08,"y":0.11,"v":1},{"x":20.51,"y":0.11,"v":2},{"x":20.94,"y":0.11,"v":2},{"x":21.37,"y":0.11,"v":2},{"x":21.8,"y":0.11,"v":2},{"x":22.23,"y":0.11,"v":2},{"x":22.66,"y":0.11,"v":3},{"x":23.09,"y":0.11,"v":3},{"x":23.52,"y":0.11,"v":3},{"x":23.95,"y":0.11,"v":3},{"x":24.38,"y":0.11,"v":3},{"x":24.81,"y":0.11,"v":4},{"x":25.24,"y":0.11,"v":4},{"x":25.67,"y":0.11,"v":4},{"x":26.1,"y":0.11,"v":4},{"x":26.53,"y":0.11,"v":5},{"x":26.96,"y":0.11,"v":5},{"x":27.39,"y":0.11,"v":5},{"x":27.82,"y":0.11,"v":6},{"x":28.25,"y":0.11,"v":5},{"x":28.68,"y":0.11,"v":5},{"x":29.11,"y":0.11,"v":3},{"x":29.54,"y":0.11,"v":2},
{"x":21.37,"y":-0.11,"v":1},{"x":22.23,"y":-0.11,"v":1},{"x":23.09,"y":-0.11,"v":2},{"x":23.95,"y":-0.11,"v":2},{"x":24.81,"y":-0.11,"v":3},{"x":25.24,"y":-0.11,"v":3},{"x":25.67,"y":-0.11,"v":3},{"x":26.1,"y":-0.11,"v":4},{"x":26.53,"y":-0.11,"v":4},{"x":26.96,"y":-0.11,"v":5},{"x":27.39,"y":-0.11,"v":5},{"x":27.82,"y":-0.11,"v":5},{"x":28.25,"y":-0.11,"v":5},{"x":28.68,"y":-0.11,"v":4},{"x":29.11,"y":-0.11,"v":3},{"x":29.54,"y":-0.11,"v":2},
{"x":22.87,"y":0.22,"v":1},{"x":23.73,"y":0.22,"v":2},{"x":24.59,"y":0.22,"v":2},{"x":25.02,"y":0.22,"v":3},{"x":25.45,"y":0.22,"v":3},{"x":25.88,"y":0.22,"v":3},{"x":26.31,"y":0.22,"v":4},{"x":26.74,"y":0.22,"v":4},{"x":27.17,"y":0.22,"v":5},{"x":27.6,"y":0.22,"v":5},{"x":28.03,"y":0.22,"v":6},{"x":28.46,"y":0.22,"v":5},{"x":28.89,"y":0.22,"v":4},{"x":29.32,"y":0.22,"v":3},{"x":29.75,"y":0.22,"v":2},
{"x":24.59,"y":-0.22,"v":1},{"x":25.45,"y":-0.22,"v":2},{"x":25.88,"y":-0.22,"v":2},{"x":26.31,"y":-0.22,"v":3},{"x":26.74,"y":-0.22,"v":4},{"x":27.17,"y":-0.22,"v":4},{"x":27.6,"y":-0.22,"v":5},{"x":28.03,"y":-0.22,"v":5},{"x":28.46,"y":-0.22,"v":4},{"x":28.89,"y":-0.22,"v":3},{"x":29.32,"y":-0.22,"v":2},
{"x":25.24,"y":0.34,"v":1},{"x":25.67,"y":0.34,"v":2},{"x":26.1,"y":0.34,"v":2},{"x":26.53,"y":0.34,"v":3},{"x":26.96,"y":0.34,"v":4},{"x":27.39,"y":0.34,"v":4},{"x":27.82,"y":0.34,"v":5},{"x":28.25,"y":0.34,"v":5},{"x":28.68,"y":0.34,"v":4},{"x":29.11,"y":0.34,"v":3},{"x":29.54,"y":0.34,"v":2},
{"x":25.67,"y":-0.34,"v":1},{"x":26.1,"y":-0.34,"v":2},{"x":26.53,"y":-0.34,"v":2},{"x":26.96,"y":-0.34,"v":3},{"x":27.39,"y":-0.34,"v":4},{"x":27.82,"y":-0.34,"v":5},{"x":28.25,"y":-0.34,"v":5},{"x":28.68,"y":-0.34,"v":4},{"x":29.11,"y":-0.34,"v":3},{"x":29.54,"y":-0.34,"v":2},
{"x":26.31,"y":0.45,"v":2},{"x":26.74,"y":0.45,"v":3},{"x":27.17,"y":0.45,"v":4},{"x":27.6,"y":0.45,"v":4},{"x":28.03,"y":0.45,"v":5},{"x":28.46,"y":0.45,"v":4},{"x":28.89,"y":0.45,"v":3},{"x":29.32,"y":0.45,"v":2},
{"x":26.74,"y":-0.45,"v":2},{"x":27.17,"y":-0.45,"v":3},{"x":27.6,"y":-0.45,"v":3},{"x":28.03,"y":-0.45,"v":4},{"x":28.46,"y":-0.45,"v":4},{"x":28.89,"y":-0.45,"v":3},{"x":29.32,"y":-0.45,"v":2},
{"x":26.53,"y":0.56,"v":2},{"x":26.96,"y":0.56,"v":3},{"x":27.39,"y":0.56,"v":3},{"x":27.82,"y":0.56,"v":4},{"x":28.25,"y":0.56,"v":4},{"x":28.68,"y":0.56,"v":3},{"x":29.11,"y":0.56,"v":2},
{"x":26.96,"y":-0.56,"v":2},{"x":27.39,"y":-0.56,"v":3},{"x":27.82,"y":-0.56,"v":3},{"x":28.25,"y":-0.56,"v":4},{"x":28.68,"y":-0.56,"v":3},{"x":29.11,"y":-0.56,"v":2},
{"x":26.74,"y":0.67,"v":2},{"x":27.17,"y":0.67,"v":2},{"x":27.6,"y":0.67,"v":3},{"x":28.03,"y":0.67,"v":3},{"x":28.46,"y":0.67,"v":3},{"x":28.89,"y":0.67,"v":2},
{"x":27.17,"y":-0.67,"v":2},{"x":27.6,"y":-0.67,"v":2},{"x":28.03,"y":-0.67,"v":3},{"x":28.46,"y":-0.67,"v":3},{"x":28.89,"y":-0.67,"v":2}],
"h356":[
{"x":19.43,"y":0,"v":2},{"x":19.86,"y":0,"v":3},{"x":20.29,"y":0,"v":3},{"x":20.72,"y":0,"v":4},{"x":21.15,"y":0,"v":4},{"x":21.58,"y":0,"v":4},{"x":22.01,"y":0,"v":4},{"x":22.44,"y":0,"v":4},{"x":22.87,"y":0,"v":4},{"x":23.3,"y":0,"v":4},{"x":23.73,"y":0,"v":4},{"x":24.16,"y":0,"v":4},{"x":24.59,"y":0,"v":4},{"x":25.02,"y":0,"v":4},{"x":25.45,"y":0,"v":3},{"x":25.88,"y":0,"v":3},{"x":26.31,"y":0,"v":2},
{"x":19.22,"y":0.11,"v":1},{"x":19.65,"y":0.11,"v":2},{"x":20.08,"y":0.11,"v":3},{"x":20.51,"y":0.11,"v":3},{"x":20.94,"y":0.11,"v":3},{"x":21.37,"y":0.11,"v":3},{"x":21.8,"y":0.11,"v":3},{"x":22.23,"y":0.11,"v":4},{"x":22.66,"y":0.11,"v":4},{"x":23.09,"y":0.11,"v":4},{"x":23.52,"y":0.11,"v":4},{"x":23.95,"y":0.11,"v":4},{"x":24.38,"y":0.11,"v":3},{"x":24.81,"y":0.11,"v":3},{"x":25.24,"y":0.11,"v":3},{"x":25.67,"y":0.11,"v":3},{"x":26.1,"y":0.11,"v":2},{"x":28.25,"y":0.11,"v":1},
{"x":19.65,"y":-0.11,"v":1},{"x":20.08,"y":-0.11,"v":2},{"x":20.51,"y":-0.11,"v":2},{"x":20.94,"y":-0.11,"v":2},{"x":21.37,"y":-0.11,"v":2},{"x":21.8,"y":-0.11,"v":3},{"x":22.23,"y":-0.11,"v":3},{"x":22.66,"y":-0.11,"v":3},{"x":23.09,"y":-0.11,"v":3},{"x":23.52,"y":-0.11,"v":3},{"x":23.95,"y":-0.11,"v":3},{"x":24.38,"y":-0.11,"v":3},{"x":24.81,"y":-0.11,"v":3},{"x":25.24,"y":-0.11,"v":3},{"x":25.67,"y":-0.11,"v":2},{"x":26.1,"y":-0.11,"v":2},{"x":27.39,"y":-0.11,"v":1},
{"x":19.86,"y":0.22,"v":1},{"x":20.72,"y":0.22,"v":1},{"x":21.15,"y":0.22,"v":2},{"x":21.58,"y":0.22,"v":2},{"x":22.01,"y":0.22,"v":2},{"x":22.44,"y":0.22,"v":2},{"x":22.87,"y":0.22,"v":3},{"x":23.3,"y":0.22,"v":3},{"x":23.73,"y":0.22,"v":3},{"x":24.16,"y":0.22,"v":3},{"x":24.59,"y":0.22,"v":3},{"x":25.02,"y":0.22,"v":3},{"x":25.45,"y":0.22,"v":3},{"x":25.88,"y":0.22,"v":2},
{"x":20.72,"y":-0.22,"v":1},{"x":21.58,"y":-0.22,"v":1},{"x":22.44,"y":-0.22,"v":2},{"x":22.87,"y":-0.22,"v":2},{"x":23.3,"y":-0.22,"v":2},{"x":23.73,"y":-0.22,"v":2},{"x":24.16,"y":-0.22,"v":2},{"x":24.59,"y":-0.22,"v":2},{"x":25.02,"y":-0.22,"v":2},{"x":25.45,"y":-0.22,"v":2},{"x":25.88,"y":-0.22,"v":2},{"x":26.31,"y":-0.22,"v":1},
{"x":21.37,"y":0.34,"v":1},{"x":22.23,"y":0.34,"v":1},{"x":22.66,"y":0.34,"v":2},{"x":23.09,"y":0.34,"v":2},{"x":23.52,"y":0.34,"v":2},{"x":23.95,"y":0.34,"v":2},{"x":24.38,"y":0.34,"v":2},{"x":24.81,"y":0.34,"v":2},{"x":25.24,"y":0.34,"v":2},{"x":25.67,"y":0.34,"v":2},{"x":26.1,"y":0.34,"v":1},
{"x":22.23,"y":-0.34,"v":1},{"x":23.52,"y":-0.34,"v":1},{"x":24.38,"y":-0.34,"v":1},{"x":25.24,"y":-0.34,"v":2},{"x":25.67,"y":-0.34,"v":2},{"x":26.1,"y":-0.34,"v":1},{"x":26.53,"y":-0.34,"v":1},{"x":27.39,"y":-0.34,"v":1},
{"x":22.44,"y":0.45,"v":1},{"x":23.3,"y":0.45,"v":1},{"x":24.16,"y":0.45,"v":2},{"x":24.59,"y":0.45,"v":2},{"x":25.02,"y":0.45,"v":2},{"x":25.45,"y":0.45,"v":2},{"x":26.31,"y":0.45,"v":1},
{"x":24.59,"y":-0.45,"v":1},{"x":25.45,"y":-0.45,"v":2},{"x":25.88,"y":-0.45,"v":2},{"x":26.31,"y":-0.45,"v":2},{"x":27.17,"y":-0.45,"v":1},
{"x":23.52,"y":0.56,"v":1},{"x":24.38,"y":0.56,"v":2},{"x":24.81,"y":0.56,"v":2},{"x":25.24,"y":0.56,"v":2},{"x":25.67,"y":0.56,"v":1},
{"x":25.24,"y":-0.56,"v":1},{"x":25.67,"y":-0.56,"v":2},{"x":26.1,"y":-0.56,"v":1},
{"x":23.73,"y":0.67,"v":1},{"x":24.59,"y":0.67,"v":2},{"x":25.02,"y":0.67,"v":2},{"x":25.45,"y":0.67,"v":1},
{"x":25.02,"y":-0.67,"v":1},{"x":25.88,"y":-0.67,"v":2},{"x":26.74,"y":-0.67,"v":1},{"x":27.6,"y":-0.67,"v":1}],
"h444":[
{"x":19.43,"y":0,"v":1},{"x":19.86,"y":0,"v":2},{"x":20.29,"y":0,"v":3},{"x":20.72,"y":0,"v":3},{"x":21.15,"y":0,"v":3},{"x":21.58,"y":0,"v":3},{"x":22.01,"y":0,"v":3},{"x":22.44,"y":0,"v":3},{"x":22.87,"y":0,"v":3},{"x":23.3,"y":0,"v":3},{"x":23.73,"y":0,"v":3},{"x":24.16,"y":0,"v":3},{"x":24.59,"y":0,"v":3},{"x":25.02,"y":0,"v":3},{"x":25.45,"y":0,"v":3},{"x":25.88,"y":0,"v":2},{"x":26.31,"y":0,"v":2},{"x":27.6,"y":0,"v":1},
{"x":19.22,"y":0.11,"v":2},{"x":19.65,"y":0.11,"v":3},{"x":20.08,"y":0.11,"v":3},{"x":20.51,"y":0.11,"v":3},{"x":20.94,"y":0.11,"v":3},{"x":21.37,"y":0.11,"v":3},{"x":21.8,"y":0.11,"v":3},{"x":22.23,"y":0.11,"v":4},{"x":22.66,"y":0.11,"v":4},{"x":23.09,"y":0.11,"v":4},{"x":23.52,"y":0.11,"v":5},{"x":23.95,"y":0.11,"v":4},{"x":24.38,"y":0.11,"v":4},{"x":24.81,"y":0.11,"v":4},{"x":25.24,"y":0.11,"v":4},{"x":25.67,"y":0.11,"v":3},{"x":26.1,"y":0.11,"v":2},{"x":27.39,"y":0.11,"v":1},
{"x":19.65,"y":-0.11,"v":1},{"x":20.08,"y":-0.11,"v":1},{"x":20.51,"y":-0.11,"v":2},{"x":20.94,"y":-0.11,"v":2},{"x":21.37,"y":-0.11,"v":2},{"x":21.8,"y":-0.11,"v":2},{"x":22.23,"y":-0.11,"v":2},{"x":22.66,"y":-0.11,"v":2},{"x":23.09,"y":-0.11,"v":2},{"x":23.52,"y":-0.11,"v":2},{"x":23.95,"y":-0.11,"v":2},{"x":24.38,"y":-0.11,"v":2},{"x":24.81,"y":-0.11,"v":3},{"x":25.24,"y":-0.11,"v":3},{"x":25.67,"y":-0.11,"v":2},{"x":26.1,"y":-0.11,"v":2},
{"x":20.29,"y":0.22,"v":1},{"x":20.72,"y":0.22,"v":2},{"x":21.15,"y":0.22,"v":2},{"x":21.58,"y":0.22,"v":2},{"x":22.01,"y":0.22,"v":2},{"x":22.44,"y":0.22,"v":3},{"x":22.87,"y":0.22,"v":3},{"x":23.3,"y":0.22,"v":3},{"x":23.73,"y":0.22,"v":3},{"x":24.16,"y":0.22,"v":3},{"x":24.59,"y":0.22,"v":3},{"x":25.02,"y":0.22,"v":3},{"x":25.45,"y":0.22,"v":3},{"x":25.88,"y":0.22,"v":2},
{"x":21.58,"y":-0.22,"v":1},{"x":22.44,"y":-0.22,"v":1},{"x":23.3,"y":-0.22,"v":2},{"x":24.16,"y":-0.22,"v":2},{"x":24.59,"y":-0.22,"v":2},{"x":25.02,"y":-0.22,"v":2},{"x":25.45,"y":-0.22,"v":2},{"x":25.88,"y":-0.22,"v":2},{"x":26.31,"y":-0.22,"v":2},{"x":27.17,"y":-0.22,"v":1},
{"x":21.37,"y":0.34,"v":1},{"x":22.23,"y":0.34,"v":1},{"x":22.66,"y":0.34,"v":2},{"x":23.09,"y":0.34,"v":2},{"x":23.52,"y":0.34,"v":2},{"x":23.95,"y":0.34,"v":2},{"x":24.38,"y":0.34,"v":2},{"x":24.81,"y":0.34,"v":2},{"x":25.24,"y":0.34,"v":3},{"x":25.67,"y":0.34,"v":2},{"x":26.1,"y":0.34,"v":1},
{"x":23.52,"y":-0.34,"v":1},{"x":24.81,"y":-0.34,"v":1},{"x":25.24,"y":-0.34,"v":2},{"x":25.67,"y":-0.34,"v":2},{"x":26.1,"y":-0.34,"v":1},{"x":26.96,"y":-0.34,"v":1},
{"x":23.3,"y":0.45,"v":1},{"x":24.16,"y":0.45,"v":1},{"x":24.59,"y":0.45,"v":2},{"x":25.02,"y":0.45,"v":2},{"x":25.45,"y":0.45,"v":2},{"x":25.88,"y":0.45,"v":1},
{"x":24.59,"y":-0.45,"v":1},{"x":25.45,"y":-0.45,"v":2},{"x":25.88,"y":-0.45,"v":2},{"x":26.31,"y":-0.45,"v":2},{"x":26.74,"y":-0.45,"v":3},{"x":27.17,"y":-0.45,"v":1},
{"x":24.81,"y":0.56,"v":1},{"x":25.24,"y":0.56,"v":2},{"x":25.67,"y":0.56,"v":2},
{"x":25.67,"y":-0.56,"v":2},{"x":26.1,"y":-0.56,"v":2},{"x":26.53,"y":-0.56,"v":1},
{"x":24.59,"y":0.67,"v":1},{"x":25.45,"y":0.67,"v":1},{"x":26.31,"y":0.67,"v":1},
{"x":25.88,"y":-0.67,"v":1},{"x":26.31,"y":-0.67,"v":2}],
"line":[
{"p":"435","x":22.7,"y":-0.055},{"p":"435","x":24.0,"y":-0.05},{"p":"435","x":25.2,"y":-0.043},{"p":"435","x":26.2,"y":-0.035},{"p":"435","x":27.0,"y":-0.015},{"p":"435","x":27.55,"y":0.005},{"p":"435","x":28.15,"y":0.05},{"p":"435","x":28.6,"y":0.058},{"p":"435","x":29.15,"y":-0.08},
{"p":"606","x":21.56,"y":-0.02},{"p":"606","x":23.0,"y":-0.01},{"p":"606","x":24.5,"y":0.003},{"p":"606","x":25.5,"y":0.012},{"p":"606","x":26.6,"y":0.055},{"p":"606","x":27.35,"y":0.086},{"p":"606","x":28.6,"y":0.026},{"p":"606","x":29.3,"y":-0.15},
{"p":"814","x":21.06,"y":0.016},{"p":"814","x":23.0,"y":0.035},{"p":"814","x":25.0,"y":0.06},{"p":"814","x":27.13,"y":0.1},{"p":"814","x":27.5,"y":0.12},{"p":"814","x":27.76,"y":0.155},{"p":"814","x":29.15,"y":-0.124},
{"p":"105","x":21.73,"y":0.002},{"p":"105","x":23.0,"y":0.012},{"p":"105","x":24.66,"y":0.026},{"p":"105","x":26.0,"y":0.045},{"p":"105","x":26.98,"y":0.07},{"p":"105","x":27.6,"y":0.15},{"p":"105","x":28.2,"y":0.138},{"p":"105","x":29.19,"y":0.044},
{"p":"125","x":21.5,"y":0.0},{"p":"125","x":23.0,"y":0.01},{"p":"125","x":24.5,"y":0.02},{"p":"125","x":26.0,"y":0.04},{"p":"125","x":27.0,"y":0.07},{"p":"125","x":27.9,"y":0.18},{"p":"125","x":28.55,"y":0.0},
{"p":"140","x":21.4,"y":0.0},{"p":"140","x":23.0,"y":0.005},{"p":"140","x":25.0,"y":0.015},{"p":"140","x":26.5,"y":0.03},{"p":"140","x":27.6,"y":0.07},{"p":"140","x":28.05,"y":0.13},{"p":"140","x":28.3,"y":0.01},{"p":"140","x":28.6,"y":-0.07},
{"p":"160","x":21.3,"y":0.037},{"p":"160","x":23.0,"y":0.055},{"p":"160","x":25.0,"y":0.08},{"p":"160","x":26.74,"y":0.107},{"p":"160","x":27.32,"y":0.082},{"p":"160","x":27.84,"y":0.21},{"p":"160","x":28.23,"y":0.124},{"p":"160","x":28.76,"y":-0.138},
{"p":"356","x":20.0,"y":0.04},{"p":"356","x":21.5,"y":0.065},{"p":"356","x":23.0,"y":0.09},{"p":"356","x":24.84,"y":0.124},{"p":"356","x":25.48,"y":0.166},{"p":"356","x":26.17,"y":-0.128},
{"p":"444","x":20.0,"y":0.082},{"p":"444","x":21.5,"y":0.12},{"p":"444","x":23.18,"y":0.166},{"p":"444","x":24.05,"y":0.15},{"p":"444","x":24.87,"y":0.175},{"p":"444","x":25.51,"y":0.14},{"p":"444","x":26.22,"y":-0.03}],
"band":[
{"p":"435","x":22.7,"lo":-0.07,"hi":-0.04},{"p":"435","x":24.0,"lo":-0.08,"hi":-0.02},{"p":"435","x":25.2,"lo":-0.09,"hi":0.01},{"p":"435","x":26.2,"lo":-0.124,"hi":0.086},{"p":"435","x":27.55,"lo":-0.21,"hi":0.19},{"p":"435","x":28.6,"lo":-0.27,"hi":0.27},{"p":"435","x":29.15,"lo":-0.317,"hi":0.295},
{"p":"606","x":21.56,"lo":-0.03,"hi":-0.01},{"p":"606","x":23.0,"lo":-0.035,"hi":0.0},{"p":"606","x":24.5,"lo":-0.04,"hi":0.02},{"p":"606","x":25.5,"lo":-0.04,"hi":0.03},{"p":"606","x":26.6,"lo":-0.05,"hi":0.12},{"p":"606","x":27.37,"lo":-0.055,"hi":0.2},{"p":"606","x":28.6,"lo":-0.25,"hi":0.17},{"p":"606","x":29.3,"lo":-0.37,"hi":0.155},
{"p":"814","x":21.06,"lo":0.005,"hi":0.03},{"p":"814","x":23.0,"lo":0.0,"hi":0.06},{"p":"814","x":25.0,"lo":-0.01,"hi":0.09},{"p":"814","x":27.13,"lo":0.0,"hi":0.2},{"p":"814","x":27.76,"lo":-0.02,"hi":0.26},{"p":"814","x":29.15,"lo":-0.37,"hi":0.225},
{"p":"105","x":21.73,"lo":-0.01,"hi":0.02},{"p":"105","x":24.66,"lo":-0.01,"hi":0.08},{"p":"105","x":26.98,"lo":-0.1,"hi":0.29},{"p":"105","x":27.6,"lo":-0.166,"hi":0.375},{"p":"105","x":28.2,"lo":-0.22,"hi":0.36},{"p":"105","x":29.19,"lo":-0.29,"hi":0.32},
{"p":"125","x":21.5,"lo":-0.01,"hi":0.02},{"p":"125","x":24.5,"lo":-0.01,"hi":0.06},{"p":"125","x":26.0,"lo":-0.03,"hi":0.12},{"p":"125","x":27.0,"lo":-0.08,"hi":0.25},{"p":"125","x":27.9,"lo":-0.1,"hi":0.4},{"p":"125","x":28.55,"lo":-0.3,"hi":0.45},
{"p":"140","x":21.4,"lo":-0.01,"hi":0.02},{"p":"140","x":24.5,"lo":-0.02,"hi":0.06},{"p":"140","x":26.5,"lo":-0.05,"hi":0.15},{"p":"140","x":27.6,"lo":-0.15,"hi":0.35},{"p":"140","x":28.05,"lo":-0.25,"hi":0.5},{"p":"140","x":28.6,"lo":-0.35,"hi":0.45},
{"p":"160","x":21.3,"lo":0.02,"hi":0.06},{"p":"160","x":24.5,"lo":0.02,"hi":0.16},{"p":"160","x":26.74,"lo":-0.05,"hi":0.26},{"p":"160","x":27.84,"lo":-0.226,"hi":0.44},{"p":"160","x":28.23,"lo":-0.25,"hi":0.42},{"p":"160","x":28.76,"lo":-0.365,"hi":0.3},
{"p":"356","x":20.0,"lo":0.02,"hi":0.07},{"p":"356","x":22.0,"lo":0.03,"hi":0.12},{"p":"356","x":24.84,"lo":0.037,"hi":0.265},{"p":"356","x":25.48,"lo":0.02,"hi":0.3},{"p":"356","x":26.17,"lo":-0.365,"hi":0.247},
{"p":"444","x":20.0,"lo":0.06,"hi":0.1},{"p":"444","x":21.5,"lo":0.07,"hi":0.15},{"p":"444","x":23.18,"lo":0.107,"hi":0.22},{"p":"444","x":24.87,"lo":0.107,"hi":0.26},{"p":"444","x":25.51,"lo":0.055,"hi":0.37},{"p":"444","x":26.22,"lo":-0.365,"hi":0.35}],
"dot":[
{"p":"435","s":"u","x":22.3,"y":0.01},{"p":"435","s":"u","x":23.5,"y":0.02},{"p":"435","s":"u","x":24.5,"y":0.035},{"p":"435","s":"u","x":25.5,"y":0.065},{"p":"435","s":"u","x":26.2,"y":0.1},{"p":"435","s":"u","x":27.0,"y":0.17},{"p":"435","s":"u","x":27.55,"y":0.26},{"p":"435","s":"u","x":28.1,"y":0.35},{"p":"435","s":"u","x":28.6,"y":0.45},{"p":"435","s":"u","x":29.0,"y":0.6},{"p":"435","s":"u","x":29.3,"y":0.78},
{"p":"435","s":"l","x":22.3,"y":-0.01},{"p":"435","s":"l","x":23.5,"y":-0.02},{"p":"435","s":"l","x":24.5,"y":-0.035},{"p":"435","s":"l","x":25.5,"y":-0.065},{"p":"435","s":"l","x":26.2,"y":-0.1},{"p":"435","s":"l","x":27.0,"y":-0.17},{"p":"435","s":"l","x":27.55,"y":-0.26},{"p":"435","s":"l","x":28.1,"y":-0.35},{"p":"435","s":"l","x":28.6,"y":-0.45},{"p":"435","s":"l","x":29.0,"y":-0.6},{"p":"435","s":"l","x":29.3,"y":-0.78},
{"p":"606","s":"u","x":21.2,"y":0.005},{"p":"606","s":"u","x":23.0,"y":0.015},{"p":"606","s":"u","x":24.5,"y":0.03},{"p":"606","s":"u","x":25.5,"y":0.05},{"p":"606","s":"u","x":26.5,"y":0.08},{"p":"606","s":"u","x":27.4,"y":0.13},{"p":"606","s":"u","x":28.2,"y":0.28},{"p":"606","s":"u","x":28.95,"y":0.5},{"p":"606","s":"u","x":29.35,"y":0.76},
{"p":"606","s":"l","x":21.2,"y":-0.005},{"p":"606","s":"l","x":23.0,"y":-0.015},{"p":"606","s":"l","x":24.5,"y":-0.03},{"p":"606","s":"l","x":25.5,"y":-0.05},{"p":"606","s":"l","x":26.5,"y":-0.08},{"p":"606","s":"l","x":27.4,"y":-0.13},{"p":"606","s":"l","x":28.2,"y":-0.28},{"p":"606","s":"l","x":28.95,"y":-0.5},{"p":"606","s":"l","x":29.35,"y":-0.76},
{"p":"814","s":"u","x":20.5,"y":0.005},{"p":"814","s":"u","x":22.5,"y":0.012},{"p":"814","s":"u","x":24.0,"y":0.02},{"p":"814","s":"u","x":25.5,"y":0.04},{"p":"814","s":"u","x":26.5,"y":0.06},{"p":"814","s":"u","x":27.2,"y":0.1},{"p":"814","s":"u","x":28.0,"y":0.2},{"p":"814","s":"u","x":28.6,"y":0.3},{"p":"814","s":"u","x":29.2,"y":0.57},
{"p":"814","s":"l","x":20.5,"y":-0.005},{"p":"814","s":"l","x":22.5,"y":-0.012},{"p":"814","s":"l","x":24.0,"y":-0.02},{"p":"814","s":"l","x":25.5,"y":-0.04},{"p":"814","s":"l","x":26.5,"y":-0.06},{"p":"814","s":"l","x":27.2,"y":-0.1},{"p":"814","s":"l","x":28.0,"y":-0.2},{"p":"814","s":"l","x":28.6,"y":-0.3},{"p":"814","s":"l","x":29.2,"y":-0.57},
{"p":"105","s":"u","x":21.0,"y":0.005},{"p":"105","s":"u","x":23.0,"y":0.015},{"p":"105","s":"u","x":25.0,"y":0.03},{"p":"105","s":"u","x":26.2,"y":0.06},{"p":"105","s":"u","x":27.0,"y":0.11},{"p":"105","s":"u","x":28.1,"y":0.25},{"p":"105","s":"u","x":29.2,"y":0.52},
{"p":"105","s":"l","x":21.0,"y":-0.005},{"p":"105","s":"l","x":23.0,"y":-0.015},{"p":"105","s":"l","x":25.0,"y":-0.03},{"p":"105","s":"l","x":26.2,"y":-0.06},{"p":"105","s":"l","x":27.0,"y":-0.11},{"p":"105","s":"l","x":28.1,"y":-0.25},{"p":"105","s":"l","x":29.2,"y":-0.52},
{"p":"125","s":"u","x":21.0,"y":0.005},{"p":"125","s":"u","x":23.0,"y":0.015},{"p":"125","s":"u","x":25.0,"y":0.03},{"p":"125","s":"u","x":26.5,"y":0.07},{"p":"125","s":"u","x":27.5,"y":0.15},{"p":"125","s":"u","x":28.3,"y":0.3},{"p":"125","s":"u","x":29.0,"y":0.55},
{"p":"125","s":"l","x":21.0,"y":-0.005},{"p":"125","s":"l","x":23.0,"y":-0.015},{"p":"125","s":"l","x":25.0,"y":-0.03},{"p":"125","s":"l","x":26.5,"y":-0.07},{"p":"125","s":"l","x":27.5,"y":-0.15},{"p":"125","s":"l","x":28.3,"y":-0.3},{"p":"125","s":"l","x":29.0,"y":-0.55},
{"p":"140","s":"u","x":21.0,"y":0.005},{"p":"140","s":"u","x":23.0,"y":0.015},{"p":"140","s":"u","x":25.0,"y":0.03},{"p":"140","s":"u","x":26.5,"y":0.07},{"p":"140","s":"u","x":27.5,"y":0.15},{"p":"140","s":"u","x":28.3,"y":0.3},{"p":"140","s":"u","x":29.0,"y":0.55},
{"p":"140","s":"l","x":21.0,"y":-0.005},{"p":"140","s":"l","x":23.0,"y":-0.015},{"p":"140","s":"l","x":25.0,"y":-0.03},{"p":"140","s":"l","x":26.5,"y":-0.07},{"p":"140","s":"l","x":27.5,"y":-0.15},{"p":"140","s":"l","x":28.3,"y":-0.3},{"p":"140","s":"l","x":29.0,"y":-0.55},
{"p":"160","s":"u","x":20.5,"y":0.005},{"p":"160","s":"u","x":22.5,"y":0.012},{"p":"160","s":"u","x":24.5,"y":0.03},{"p":"160","s":"u","x":26.0,"y":0.06},{"p":"160","s":"u","x":26.74,"y":0.09},{"p":"160","s":"u","x":27.84,"y":0.26},{"p":"160","s":"u","x":28.8,"y":0.51},
{"p":"160","s":"l","x":20.5,"y":-0.005},{"p":"160","s":"l","x":22.5,"y":-0.012},{"p":"160","s":"l","x":24.5,"y":-0.03},{"p":"160","s":"l","x":26.0,"y":-0.06},{"p":"160","s":"l","x":26.74,"y":-0.09},{"p":"160","s":"l","x":27.84,"y":-0.26},{"p":"160","s":"l","x":28.8,"y":-0.51},
{"p":"356","s":"u","x":19.5,"y":0.005},{"p":"356","s":"u","x":22.0,"y":0.008},{"p":"356","s":"u","x":24.0,"y":0.012},{"p":"356","s":"u","x":25.5,"y":0.025},{"p":"356","s":"u","x":26.2,"y":0.045},
{"p":"356","s":"l","x":19.5,"y":-0.005},{"p":"356","s":"l","x":22.0,"y":-0.008},{"p":"356","s":"l","x":24.0,"y":-0.012},{"p":"356","s":"l","x":25.5,"y":-0.025},{"p":"356","s":"l","x":26.2,"y":-0.055},
{"p":"444","s":"u","x":19.5,"y":0.005},{"p":"444","s":"u","x":22.0,"y":0.01},{"p":"444","s":"u","x":24.0,"y":0.015},{"p":"444","s":"u","x":25.5,"y":0.035},{"p":"444","s":"u","x":26.25,"y":0.07},
{"p":"444","s":"l","x":19.5,"y":-0.005},{"p":"444","s":"l","x":22.0,"y":-0.01},{"p":"444","s":"l","x":24.0,"y":-0.015},{"p":"444","s":"l","x":25.5,"y":-0.035},{"p":"444","s":"l","x":26.25,"y":-0.085}],
"vl":[
{"p":"435","k":"cut","x":29.36},{"p":"435","k":"lim","x":29.45},
{"p":"606","k":"cut","x":28.95},{"p":"606","k":"lim","x":29.73},
{"p":"814","k":"cut","x":27.6},{"p":"814","k":"lim","x":29.7},
{"p":"105","k":"cut","x":27.15},{"p":"105","k":"lim","x":29.55},
{"p":"125","k":"cut","x":27.18},{"p":"125","k":"lim","x":29.06},
{"p":"140","k":"cut","x":28.85},{"p":"140","k":"lim","x":28.9},
{"p":"160","k":"cut","x":26.8},{"p":"160","k":"lim","x":29.1},
{"p":"356","k":"cut","x":25.48},{"p":"356","k":"lim","x":26.5},
{"p":"444","k":"cut","x":25.5},{"p":"444","k":"lim","x":26.5}]
},
"columns":3,"bounds":"flush","spacing":{"row":9,"column":17},
"concat":[
{"width":397,"height":142,"resolve":{"axis":{"x":"independent","y":"independent"}},"layer":[
{"data":{"name":"h435"},"mark":{"type":"point","shape":"M0,-0.953L1,-0.477L1,0.477L0,0.953L-1,0.477L-1,-0.477Z","filled":true,"size":222,"opacity":1,"clip":true},"encoding":{"x":{"field":"x","type":"quantitative","scale":{"domain":[19,30.5]},"axis":{"orient":"bottom","tickCount":6,"tickSize":-7,"title":null}},"y":{"field":"y","type":"quantitative","scale":{"domain":[-0.75,0.75]},"axis":{"orient":"left","tickCount":3,"tickSize":-7,"labels":true,"title":null}},"color":{"field":"v","type":"quantitative","scale":{"domain":[0,10],"range":["#f4f4f4","#7a7a7a"]},"legend":null}}},
{"data":{"name":"band"},"transform":[{"filter":"datum.p=='435'"}],"mark":{"type":"area","color":"#2e1a47","opacity":0.3,"clip":true},"encoding":{"x":{"field":"x","type":"quantitative","axis":{"orient":"bottom","tickCount":23,"tickSize":-4,"title":null}},"y":{"field":"lo","type":"quantitative","axis":{"orient":"left","tickCount":15,"tickSize":-4,"title":null}},"y2":{"field":"hi"}}},
{"data":{"name":"dot"},"transform":[{"filter":"datum.p=='435'"}],"mark":{"type":"line","color":"#6f6f6f","strokeDash":[2,4],"strokeWidth":2,"clip":true},"encoding":{"x":{"field":"x","type":"quantitative","axis":{"orient":"top","tickCount":6,"tickSize":-7,"title":null}},"y":{"field":"y","type":"quantitative","axis":{"orient":"right","tickCount":3,"tickSize":-7,"title":null}},"detail":{"field":"s"}}},
{"data":{"name":"lab"},"transform":[{"filter":"datum.p=='435'"}],"mark":{"type":"rule","color":"#8a8a8a","strokeWidth":2},"encoding":{"y":{"datum":0,"type":"quantitative","axis":{"orient":"right","tickCount":15,"tickSize":-4,"title":null}}}},
{"data":{"name":"line"},"transform":[{"filter":"datum.p=='435'"}],"mark":{"type":"line","color":"#2e1a47","strokeWidth":2,"clip":true},"encoding":{"x":{"field":"x","type":"quantitative","axis":{"orient":"top","tickCount":23,"tickSize":-4,"title":null}},"y":{"field":"y","type":"quantitative","axis":null}}},
{"data":{"name":"vl"},"transform":[{"filter":"datum.p=='435'"}],"mark":{"type":"rule","color":"#2e1a47","strokeWidth":1.8},"encoding":{"x":{"field":"x","type":"quantitative","axis":null},"strokeDash":{"field":"k","type":"nominal","scale":{"domain":["cut","lim"],"range":[[6,4],[1,0]]},"legend":null}}},
{"data":{"name":"lab"},"transform":[{"filter":"datum.p=='435'"}],"mark":{"type":"text"},"encoding":{"x":{"datum":19.6,"type":"quantitative","axis":null},"y":{"datum":0.45,"type":"quantitative","axis":null},"text":{"field":"name"}}},
{"data":{"name":"lab"},"transform":[{"filter":"datum.p=='435'"}],"mark":{"type":"text"},"encoding":{"x":{"datum":19.6,"type":"quantitative","axis":null},"y":{"datum":-0.555,"type":"quantitative","axis":null},"text":{"field":"stat"}}}
]},
{"width":397,"height":142,"resolve":{"axis":{"x":"independent","y":"independent"}},"layer":[
{"data":{"name":"h606"},"mark":{"type":"point","shape":"M0,-0.953L1,-0.477L1,0.477L0,0.953L-1,0.477L-1,-0.477Z","filled":true,"size":222,"opacity":1,"clip":true},"encoding":{"x":{"field":"x","type":"quantitative","scale":{"domain":[19,30.5]},"axis":{"orient":"bottom","tickCount":6,"tickSize":-7,"title":null}},"y":{"field":"y","type":"quantitative","scale":{"domain":[-0.75,0.75]},"axis":{"orient":"left","tickCount":3,"tickSize":-7,"title":null}},"color":{"field":"v","type":"quantitative","scale":{"domain":[0,10],"range":["#f4f4f4","#7a7a7a"]},"legend":null}}},
{"data":{"name":"band"},"transform":[{"filter":"datum.p=='606'"}],"mark":{"type":"area","color":"#3b45c4","opacity":0.3,"clip":true},"encoding":{"x":{"field":"x","type":"quantitative","axis":{"orient":"bottom","tickCount":23,"tickSize":-4,"title":null}},"y":{"field":"lo","type":"quantitative","axis":{"orient":"left","tickCount":15,"tickSize":-4,"title":null}},"y2":{"field":"hi"}}},
{"data":{"name":"dot"},"transform":[{"filter":"datum.p=='606'"}],"mark":{"type":"line","color":"#6f6f6f","strokeDash":[2,4],"strokeWidth":2,"clip":true},"encoding":{"x":{"field":"x","type":"quantitative","axis":{"orient":"top","tickCount":6,"tickSize":-7,"title":null}},"y":{"field":"y","type":"quantitative","axis":{"orient":"right","tickCount":3,"tickSize":-7,"title":null}},"detail":{"field":"s"}}},
{"data":{"name":"lab"},"transform":[{"filter":"datum.p=='606'"}],"mark":{"type":"rule","color":"#8a8a8a","strokeWidth":2},"encoding":{"y":{"datum":0,"type":"quantitative","axis":{"orient":"right","tickCount":15,"tickSize":-4,"title":null}}}},
{"data":{"name":"line"},"transform":[{"filter":"datum.p=='606'"}],"mark":{"type":"line","color":"#3b45c4","strokeWidth":2,"clip":true},"encoding":{"x":{"field":"x","type":"quantitative","axis":{"orient":"top","tickCount":23,"tickSize":-4,"title":null}},"y":{"field":"y","type":"quantitative","axis":null}}},
{"data":{"name":"vl"},"transform":[{"filter":"datum.p=='606'"}],"mark":{"type":"rule","color":"#3b45c4","strokeWidth":1.8},"encoding":{"x":{"field":"x","type":"quantitative","axis":null},"strokeDash":{"field":"k","type":"nominal","scale":{"domain":["cut","lim"],"range":[[6,4],[1,0]]},"legend":null}}},
{"data":{"name":"lab"},"transform":[{"filter":"datum.p=='606'"}],"mark":{"type":"text"},"encoding":{"x":{"datum":19.6,"type":"quantitative","axis":null},"y":{"datum":0.45,"type":"quantitative","axis":null},"text":{"field":"name"}}},
{"data":{"name":"lab"},"transform":[{"filter":"datum.p=='606'"}],"mark":{"type":"text"},"encoding":{"x":{"datum":19.6,"type":"quantitative","axis":null},"y":{"datum":-0.555,"type":"quantitative","axis":null},"text":{"field":"stat"}}}
]},
{"width":397,"height":142,"resolve":{"axis":{"x":"independent","y":"independent"}},"layer":[
{"data":{"name":"h814"},"mark":{"type":"point","shape":"M0,-0.953L1,-0.477L1,0.477L0,0.953L-1,0.477L-1,-0.477Z","filled":true,"size":222,"opacity":1,"clip":true},"encoding":{"x":{"field":"x","type":"quantitative","scale":{"domain":[19,30.5]},"axis":{"orient":"bottom","tickCount":6,"tickSize":-7,"title":null}},"y":{"field":"y","type":"quantitative","scale":{"domain":[-0.75,0.75]},"axis":{"orient":"left","tickCount":3,"tickSize":-7,"title":null}},"color":{"field":"v","type":"quantitative","scale":{"domain":[0,10],"range":["#f4f4f4","#7a7a7a"]},"legend":null}}},
{"data":{"name":"band"},"transform":[{"filter":"datum.p=='814'"}],"mark":{"type":"area","color":"#4a7fe6","opacity":0.3,"clip":true},"encoding":{"x":{"field":"x","type":"quantitative","axis":{"orient":"bottom","tickCount":23,"tickSize":-4,"title":null}},"y":{"field":"lo","type":"quantitative","axis":{"orient":"left","tickCount":15,"tickSize":-4,"title":null}},"y2":{"field":"hi"}}},
{"data":{"name":"dot"},"transform":[{"filter":"datum.p=='814'"}],"mark":{"type":"line","color":"#6f6f6f","strokeDash":[2,4],"strokeWidth":2,"clip":true},"encoding":{"x":{"field":"x","type":"quantitative","axis":{"orient":"top","tickCount":6,"tickSize":-7,"title":null}},"y":{"field":"y","type":"quantitative","axis":{"orient":"right","tickCount":3,"tickSize":-7,"title":null}},"detail":{"field":"s"}}},
{"data":{"name":"lab"},"transform":[{"filter":"datum.p=='814'"}],"mark":{"type":"rule","color":"#8a8a8a","strokeWidth":2},"encoding":{"y":{"datum":0,"type":"quantitative","axis":{"orient":"right","tickCount":15,"tickSize":-4,"title":null}}}},
{"data":{"name":"line"},"transform":[{"filter":"datum.p=='814'"}],"mark":{"type":"line","color":"#4a7fe6","strokeWidth":2,"clip":true},"encoding":{"x":{"field":"x","type":"quantitative","axis":{"orient":"top","tickCount":23,"tickSize":-4,"title":null}},"y":{"field":"y","type":"quantitative","axis":null}}},
{"data":{"name":"vl"},"transform":[{"filter":"datum.p=='814'"}],"mark":{"type":"rule","color":"#4a7fe6","strokeWidth":1.8},"encoding":{"x":{"field":"x","type":"quantitative","axis":null},"strokeDash":{"field":"k","type":"nominal","scale":{"domain":["cut","lim"],"range":[[6,4],[1,0]]},"legend":null}}},
{"data":{"name":"lab"},"transform":[{"filter":"datum.p=='814'"}],"mark":{"type":"text"},"encoding":{"x":{"datum":19.6,"type":"quantitative","axis":null},"y":{"datum":0.45,"type":"quantitative","axis":null},"text":{"field":"name"}}},
{"data":{"name":"lab"},"transform":[{"filter":"datum.p=='814'"}],"mark":{"type":"text"},"encoding":{"x":{"datum":19.6,"type":"quantitative","axis":null},"y":{"datum":-0.555,"type":"quantitative","axis":null},"text":{"field":"stat"}}}
]},
{"width":397,"height":142,"resolve":{"axis":{"x":"independent","y":"independent"}},"layer":[
{"data":{"name":"h105"},"mark":{"type":"point","shape":"M0,-0.953L1,-0.477L1,0.477L0,0.953L-1,0.477L-1,-0.477Z","filled":true,"size":222,"opacity":1,"clip":true},"encoding":{"x":{"field":"x","type":"quantitative","scale":{"domain":[19,30.5]},"axis":{"orient":"bottom","tickCount":6,"tickSize":-7,"title":null}},"y":{"field":"y","type":"quantitative","scale":{"domain":[-0.75,0.75]},"axis":{"orient":"left","tickCount":3,"tickSize":-7,"labels":true,"title":"ΔMag (Shipley+18 - Aperpy)"}},"color":{"field":"v","type":"quantitative","scale":{"domain":[0,10],"range":["#f4f4f4","#7a7a7a"]},"legend":null}}},
{"data":{"name":"band"},"transform":[{"filter":"datum.p=='105'"}],"mark":{"type":"area","color":"#25cfd9","opacity":0.3,"clip":true},"encoding":{"x":{"field":"x","type":"quantitative","axis":{"orient":"bottom","tickCount":23,"tickSize":-4,"title":null}},"y":{"field":"lo","type":"quantitative","axis":{"orient":"left","tickCount":15,"tickSize":-4,"title":null}},"y2":{"field":"hi"}}},
{"data":{"name":"dot"},"transform":[{"filter":"datum.p=='105'"}],"mark":{"type":"line","color":"#6f6f6f","strokeDash":[2,4],"strokeWidth":2,"clip":true},"encoding":{"x":{"field":"x","type":"quantitative","axis":{"orient":"top","tickCount":6,"tickSize":-7,"title":null}},"y":{"field":"y","type":"quantitative","axis":{"orient":"right","tickCount":3,"tickSize":-7,"title":null}},"detail":{"field":"s"}}},
{"data":{"name":"lab"},"transform":[{"filter":"datum.p=='105'"}],"mark":{"type":"rule","color":"#8a8a8a","strokeWidth":2},"encoding":{"y":{"datum":0,"type":"quantitative","axis":{"orient":"right","tickCount":15,"tickSize":-4,"title":null}}}},
{"data":{"name":"line"},"transform":[{"filter":"datum.p=='105'"}],"mark":{"type":"line","color":"#25cfd9","strokeWidth":2,"clip":true},"encoding":{"x":{"field":"x","type":"quantitative","axis":{"orient":"top","tickCount":23,"tickSize":-4,"title":null}},"y":{"field":"y","type":"quantitative","axis":null}}},
{"data":{"name":"vl"},"transform":[{"filter":"datum.p=='105'"}],"mark":{"type":"rule","color":"#25cfd9","strokeWidth":1.8},"encoding":{"x":{"field":"x","type":"quantitative","axis":null},"strokeDash":{"field":"k","type":"nominal","scale":{"domain":["cut","lim"],"range":[[6,4],[1,0]]},"legend":null}}},
{"data":{"name":"lab"},"transform":[{"filter":"datum.p=='105'"}],"mark":{"type":"text"},"encoding":{"x":{"datum":19.6,"type":"quantitative","axis":null},"y":{"datum":0.45,"type":"quantitative","axis":null},"text":{"field":"name"}}},
{"data":{"name":"lab"},"transform":[{"filter":"datum.p=='105'"}],"mark":{"type":"text"},"encoding":{"x":{"datum":19.6,"type":"quantitative","axis":null},"y":{"datum":-0.555,"type":"quantitative","axis":null},"text":{"field":"stat"}}}
]},
{"width":397,"height":142,"resolve":{"axis":{"x":"independent","y":"independent"}},"layer":[
{"data":{"name":"h125"},"mark":{"type":"point","shape":"M0,-0.953L1,-0.477L1,0.477L0,0.953L-1,0.477L-1,-0.477Z","filled":true,"size":222,"opacity":1,"clip":true},"encoding":{"x":{"field":"x","type":"quantitative","scale":{"domain":[19,30.5]},"axis":{"orient":"bottom","tickCount":6,"tickSize":-7,"title":null}},"y":{"field":"y","type":"quantitative","scale":{"domain":[-0.75,0.75]},"axis":{"orient":"left","tickCount":3,"tickSize":-7,"title":null}},"color":{"field":"v","type":"quantitative","scale":{"domain":[0,10],"range":["#f4f4f4","#7a7a7a"]},"legend":null}}},
{"data":{"name":"band"},"transform":[{"filter":"datum.p=='125'"}],"mark":{"type":"area","color":"#5cf55c","opacity":0.3,"clip":true},"encoding":{"x":{"field":"x","type":"quantitative","axis":{"orient":"bottom","tickCount":23,"tickSize":-4,"title":null}},"y":{"field":"lo","type":"quantitative","axis":{"orient":"left","tickCount":15,"tickSize":-4,"title":null}},"y2":{"field":"hi"}}},
{"data":{"name":"dot"},"transform":[{"filter":"datum.p=='125'"}],"mark":{"type":"line","color":"#6f6f6f","strokeDash":[2,4],"strokeWidth":2,"clip":true},"encoding":{"x":{"field":"x","type":"quantitative","axis":{"orient":"top","tickCount":6,"tickSize":-7,"title":null}},"y":{"field":"y","type":"quantitative","axis":{"orient":"right","tickCount":3,"tickSize":-7,"title":null}},"detail":{"field":"s"}}},
{"data":{"name":"lab"},"transform":[{"filter":"datum.p=='125'"}],"mark":{"type":"rule","color":"#8a8a8a","strokeWidth":2},"encoding":{"y":{"datum":0,"type":"quantitative","axis":{"orient":"right","tickCount":15,"tickSize":-4,"title":null}}}},
{"data":{"name":"line"},"transform":[{"filter":"datum.p=='125'"}],"mark":{"type":"line","color":"#5cf55c","strokeWidth":2,"clip":true},"encoding":{"x":{"field":"x","type":"quantitative","axis":{"orient":"top","tickCount":23,"tickSize":-4,"title":null}},"y":{"field":"y","type":"quantitative","axis":null}}},
{"data":{"name":"vl"},"transform":[{"filter":"datum.p=='125'"}],"mark":{"type":"rule","color":"#5cf55c","strokeWidth":1.8},"encoding":{"x":{"field":"x","type":"quantitative","axis":null},"strokeDash":{"field":"k","type":"nominal","scale":{"domain":["cut","lim"],"range":[[6,4],[1,0]]},"legend":null}}},
{"data":{"name":"lab"},"transform":[{"filter":"datum.p=='125'"}],"mark":{"type":"text"},"encoding":{"x":{"datum":19.6,"type":"quantitative","axis":null},"y":{"datum":0.45,"type":"quantitative","axis":null},"text":{"field":"name"}}},
{"data":{"name":"lab"},"transform":[{"filter":"datum.p=='125'"}],"mark":{"type":"text"},"encoding":{"x":{"datum":19.6,"type":"quantitative","axis":null},"y":{"datum":-0.555,"type":"quantitative","axis":null},"text":{"field":"stat"}}}
]},
{"width":397,"height":142,"resolve":{"axis":{"x":"independent","y":"independent"}},"layer":[
{"data":{"name":"h140"},"mark":{"type":"point","shape":"M0,-0.953L1,-0.477L1,0.477L0,0.953L-1,0.477L-1,-0.477Z","filled":true,"size":222,"opacity":1,"clip":true},"encoding":{"x":{"field":"x","type":"quantitative","scale":{"domain":[19,30.5]},"axis":{"orient":"bottom","tickCount":6,"tickSize":-7,"title":null}},"y":{"field":"y","type":"quantitative","scale":{"domain":[-0.75,0.75]},"axis":{"orient":"left","tickCount":3,"tickSize":-7,"title":null}},"color":{"field":"v","type":"quantitative","scale":{"domain":[0,10],"range":["#f4f4f4","#7a7a7a"]},"legend":null}}},
{"data":{"name":"band"},"transform":[{"filter":"datum.p=='140'"}],"mark":{"type":"area","color":"#a4f023","opacity":0.3,"clip":true},"encoding":{"x":{"field":"x","type":"quantitative","axis":{"orient":"bottom","tickCount":23,"tickSize":-4,"title":null}},"y":{"field":"lo","type":"quantitative","axis":{"orient":"left","tickCount":15,"tickSize":-4,"title":null}},"y2":{"field":"hi"}}},
{"data":{"name":"dot"},"transform":[{"filter":"datum.p=='140'"}],"mark":{"type":"line","color":"#6f6f6f","strokeDash":[2,4],"strokeWidth":2,"clip":true},"encoding":{"x":{"field":"x","type":"quantitative","axis":{"orient":"top","tickCount":6,"tickSize":-7,"title":null}},"y":{"field":"y","type":"quantitative","axis":{"orient":"right","tickCount":3,"tickSize":-7,"title":null}},"detail":{"field":"s"}}},
{"data":{"name":"lab"},"transform":[{"filter":"datum.p=='140'"}],"mark":{"type":"rule","color":"#8a8a8a","strokeWidth":2},"encoding":{"y":{"datum":0,"type":"quantitative","axis":{"orient":"right","tickCount":15,"tickSize":-4,"title":null}}}},
{"data":{"name":"line"},"transform":[{"filter":"datum.p=='140'"}],"mark":{"type":"line","color":"#a4f023","strokeWidth":2,"clip":true},"encoding":{"x":{"field":"x","type":"quantitative","axis":{"orient":"top","tickCount":23,"tickSize":-4,"title":null}},"y":{"field":"y","type":"quantitative","axis":null}}},
{"data":{"name":"vl"},"transform":[{"filter":"datum.p=='140'"}],"mark":{"type":"rule","color":"#a4f023","strokeWidth":1.8},"encoding":{"x":{"field":"x","type":"quantitative","axis":null},"strokeDash":{"field":"k","type":"nominal","scale":{"domain":["cut","lim"],"range":[[6,4],[1,0]]},"legend":null}}},
{"data":{"name":"lab"},"transform":[{"filter":"datum.p=='140'"}],"mark":{"type":"text"},"encoding":{"x":{"datum":19.6,"type":"quantitative","axis":null},"y":{"datum":0.45,"type":"quantitative","axis":null},"text":{"field":"name"}}},
{"data":{"name":"lab"},"transform":[{"filter":"datum.p=='140'"}],"mark":{"type":"text"},"encoding":{"x":{"datum":19.6,"type":"quantitative","axis":null},"y":{"datum":-0.555,"type":"quantitative","axis":null},"text":{"field":"stat"}}}
]},
{"width":397,"height":142,"resolve":{"axis":{"x":"independent","y":"independent"}},"layer":[
{"data":{"name":"h160"},"mark":{"type":"point","shape":"M0,-0.953L1,-0.477L1,0.477L0,0.953L-1,0.477L-1,-0.477Z","filled":true,"size":222,"opacity":1,"clip":true},"encoding":{"x":{"field":"x","type":"quantitative","scale":{"domain":[19,30.5]},"axis":{"orient":"bottom","tickCount":6,"tickSize":-7,"labels":true,"title":null}},"y":{"field":"y","type":"quantitative","scale":{"domain":[-0.75,0.75]},"axis":{"orient":"left","tickCount":3,"tickSize":-7,"labels":true,"title":null}},"color":{"field":"v","type":"quantitative","scale":{"domain":[0,10],"range":["#f4f4f4","#7a7a7a"]},"legend":null}}},
{"data":{"name":"band"},"transform":[{"filter":"datum.p=='160'"}],"mark":{"type":"area","color":"#f5c431","opacity":0.3,"clip":true},"encoding":{"x":{"field":"x","type":"quantitative","axis":{"orient":"bottom","tickCount":23,"tickSize":-4,"title":null}},"y":{"field":"lo","type":"quantitative","axis":{"orient":"left","tickCount":15,"tickSize":-4,"title":null}},"y2":{"field":"hi"}}},
{"data":{"name":"dot"},"transform":[{"filter":"datum.p=='160'"}],"mark":{"type":"line","color":"#6f6f6f","strokeDash":[2,4],"strokeWidth":2,"clip":true},"encoding":{"x":{"field":"x","type":"quantitative","axis":{"orient":"top","tickCount":6,"tickSize":-7,"title":null}},"y":{"field":"y","type":"quantitative","axis":{"orient":"right","tickCount":3,"tickSize":-7,"title":null}},"detail":{"field":"s"}}},
{"data":{"name":"lab"},"transform":[{"filter":"datum.p=='160'"}],"mark":{"type":"rule","color":"#8a8a8a","strokeWidth":2},"encoding":{"y":{"datum":0,"type":"quantitative","axis":{"orient":"right","tickCount":15,"tickSize":-4,"title":null}}}},
{"data":{"name":"line"},"transform":[{"filter":"datum.p=='160'"}],"mark":{"type":"line","color":"#f5c431","strokeWidth":2,"clip":true},"encoding":{"x":{"field":"x","type":"quantitative","axis":{"orient":"top","tickCount":23,"tickSize":-4,"title":null}},"y":{"field":"y","type":"quantitative","axis":null}}},
{"data":{"name":"vl"},"transform":[{"filter":"datum.p=='160'"}],"mark":{"type":"rule","color":"#f5c431","strokeWidth":1.8},"encoding":{"x":{"field":"x","type":"quantitative","axis":null},"strokeDash":{"field":"k","type":"nominal","scale":{"domain":["cut","lim"],"range":[[6,4],[1,0]]},"legend":null}}},
{"data":{"name":"lab"},"transform":[{"filter":"datum.p=='160'"}],"mark":{"type":"text"},"encoding":{"x":{"datum":19.6,"type":"quantitative","axis":null},"y":{"datum":0.45,"type":"quantitative","axis":null},"text":{"field":"name"}}},
{"data":{"name":"lab"},"transform":[{"filter":"datum.p=='160'"}],"mark":{"type":"text"},"encoding":{"x":{"datum":19.6,"type":"quantitative","axis":null},"y":{"datum":-0.555,"type":"quantitative","axis":null},"text":{"field":"stat"}}}
]},
{"width":397,"height":142,"resolve":{"axis":{"x":"independent","y":"independent"}},"layer":[
{"data":{"name":"h356"},"mark":{"type":"point","shape":"M0,-0.953L1,-0.477L1,0.477L0,0.953L-1,0.477L-1,-0.477Z","filled":true,"size":222,"opacity":1,"clip":true},"encoding":{"x":{"field":"x","type":"quantitative","scale":{"domain":[19,30.5]},"axis":{"orient":"bottom","tickCount":6,"tickSize":-7,"labels":true,"title":"Aperpy Mag (AB)"}},"y":{"field":"y","type":"quantitative","scale":{"domain":[-0.75,0.75]},"axis":{"orient":"left","tickCount":3,"tickSize":-7,"title":null}},"color":{"field":"v","type":"quantitative","scale":{"domain":[0,10],"range":["#f4f4f4","#7a7a7a"]},"legend":null}}},
{"data":{"name":"band"},"transform":[{"filter":"datum.p=='356'"}],"mark":{"type":"area","color":"#e0461c","opacity":0.3,"clip":true},"encoding":{"x":{"field":"x","type":"quantitative","axis":{"orient":"bottom","tickCount":23,"tickSize":-4,"title":null}},"y":{"field":"lo","type":"quantitative","axis":{"orient":"left","tickCount":15,"tickSize":-4,"title":null}},"y2":{"field":"hi"}}},
{"data":{"name":"dot"},"transform":[{"filter":"datum.p=='356'"}],"mark":{"type":"line","color":"#6f6f6f","strokeDash":[2,4],"strokeWidth":2,"clip":true},"encoding":{"x":{"field":"x","type":"quantitative","axis":{"orient":"top","tickCount":6,"tickSize":-7,"title":null}},"y":{"field":"y","type":"quantitative","axis":{"orient":"right","tickCount":3,"tickSize":-7,"title":null}},"detail":{"field":"s"}}},
{"data":{"name":"lab"},"transform":[{"filter":"datum.p=='356'"}],"mark":{"type":"rule","color":"#8a8a8a","strokeWidth":2},"encoding":{"y":{"datum":0,"type":"quantitative","axis":{"orient":"right","tickCount":15,"tickSize":-4,"title":null}}}},
{"data":{"name":"line"},"transform":[{"filter":"datum.p=='356'"}],"mark":{"type":"line","color":"#e0461c","strokeWidth":2,"clip":true},"encoding":{"x":{"field":"x","type":"quantitative","axis":{"orient":"top","tickCount":23,"tickSize":-4,"title":null}},"y":{"field":"y","type":"quantitative","axis":null}}},
{"data":{"name":"vl"},"transform":[{"filter":"datum.p=='356'"}],"mark":{"type":"rule","color":"#e0461c","strokeWidth":1.8},"encoding":{"x":{"field":"x","type":"quantitative","axis":null},"strokeDash":{"field":"k","type":"nominal","scale":{"domain":["cut","lim"],"range":[[6,4],[1,0]]},"legend":null}}},
{"data":{"name":"lab"},"transform":[{"filter":"datum.p=='356'"}],"mark":{"type":"text"},"encoding":{"x":{"datum":19.6,"type":"quantitative","axis":null},"y":{"datum":0.45,"type":"quantitative","axis":null},"text":{"field":"name"}}},
{"data":{"name":"lab"},"transform":[{"filter":"datum.p=='356'"}],"mark":{"type":"text"},"encoding":{"x":{"datum":19.6,"type":"quantitative","axis":null},"y":{"datum":-0.555,"type":"quantitative","axis":null},"text":{"field":"stat"}}}
]},
{"width":397,"height":142,"resolve":{"axis":{"x":"independent","y":"independent"}},"layer":[
{"data":{"name":"h444"},"mark":{"type":"point","shape":"M0,-0.953L1,-0.477L1,0.477L0,0.953L-1,0.477L-1,-0.477Z","filled":true,"size":222,"opacity":1,"clip":true},"encoding":{"x":{"field":"x","type":"quantitative","scale":{"domain":[19,30.5]},"axis":{"orient":"bottom","tickCount":6,"tickSize":-7,"labels":true,"title":null}},"y":{"field":"y","type":"quantitative","scale":{"domain":[-0.75,0.75]},"axis":{"orient":"left","tickCount":3,"tickSize":-7,"title":null}},"color":{"field":"v","type":"quantitative","scale":{"domain":[0,10],"range":["#f4f4f4","#7a7a7a"]},"legend":null}}},
{"data":{"name":"band"},"transform":[{"filter":"datum.p=='444'"}],"mark":{"type":"area","color":"#8b1111","opacity":0.3,"clip":true},"encoding":{"x":{"field":"x","type":"quantitative","axis":{"orient":"bottom","tickCount":23,"tickSize":-4,"title":null}},"y":{"field":"lo","type":"quantitative","axis":{"orient":"left","tickCount":15,"tickSize":-4,"title":null}},"y2":{"field":"hi"}}},
{"data":{"name":"dot"},"transform":[{"filter":"datum.p=='444'"}],"mark":{"type":"line","color":"#6f6f6f","strokeDash":[2,4],"strokeWidth":2,"clip":true},"encoding":{"x":{"field":"x","type":"quantitative","axis":{"orient":"top","tickCount":6,"tickSize":-7,"title":null}},"y":{"field":"y","type":"quantitative","axis":{"orient":"right","tickCount":3,"tickSize":-7,"title":null}},"detail":{"field":"s"}}},
{"data":{"name":"lab"},"transform":[{"filter":"datum.p=='444'"}],"mark":{"type":"rule","color":"#8a8a8a","strokeWidth":2},"encoding":{"y":{"datum":0,"type":"quantitative","axis":{"orient":"right","tickCount":15,"tickSize":-4,"title":null}}}},
{"data":{"name":"line"},"transform":[{"filter":"datum.p=='444'"}],"mark":{"type":"line","color":"#8b1111","strokeWidth":2,"clip":true},"encoding":{"x":{"field":"x","type":"quantitative","axis":{"orient":"top","tickCount":23,"tickSize":-4,"title":null}},"y":{"field":"y","type":"quantitative","axis":null}}},
{"data":{"name":"vl"},"transform":[{"filter":"datum.p=='444'"}],"mark":{"type":"rule","color":"#8b1111","strokeWidth":1.8},"encoding":{"x":{"field":"x","type":"quantitative","axis":null},"strokeDash":{"field":"k","type":"nominal","scale":{"domain":["cut","lim"],"range":[[6,4],[1,0]]},"legend":null}}},
{"data":{"name":"lab"},"transform":[{"filter":"datum.p=='444'"}],"mark":{"type":"text"},"encoding":{"x":{"datum":19.6,"type":"quantitative","axis":null},"y":{"datum":0.45,"type":"quantitative","axis":null},"text":{"field":"name"}}},
{"data":{"name":"lab"},"transform":[{"filter":"datum.p=='444'"}],"mark":{"type":"text"},"encoding":{"x":{"datum":19.6,"type":"quantitative","axis":null},"y":{"datum":-0.555,"type":"quantitative","axis":null},"text":{"field":"stat"}}}
]}
]}
